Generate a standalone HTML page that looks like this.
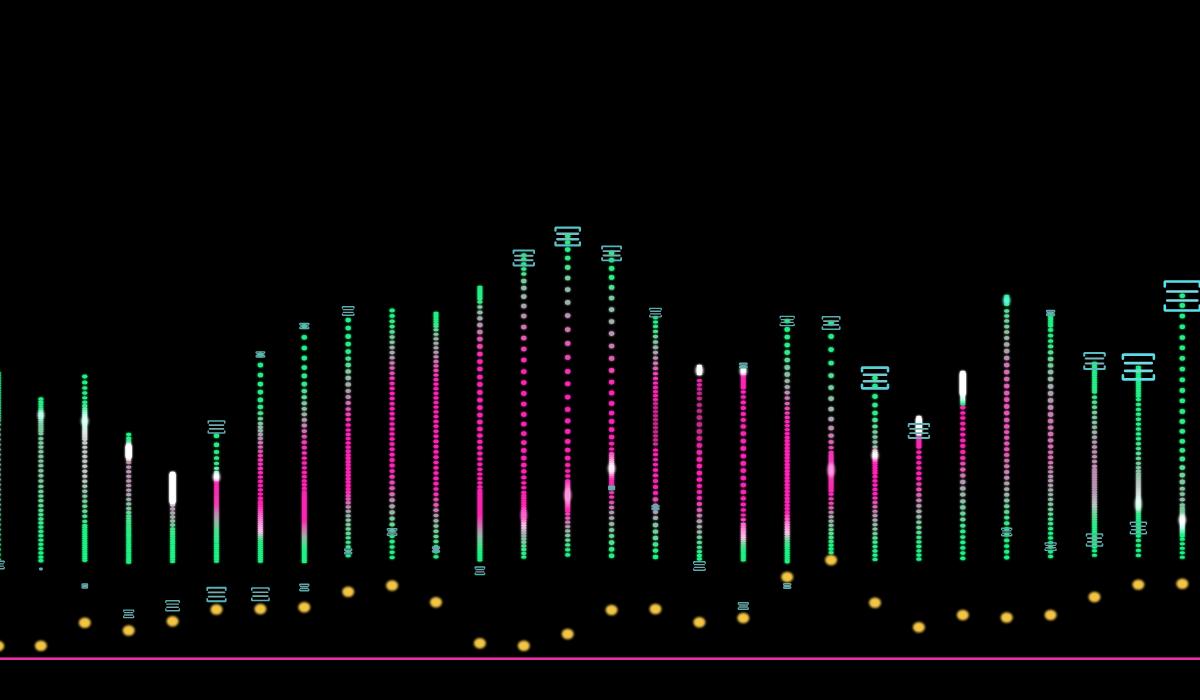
<!DOCTYPE html>
<html><head><meta charset="utf-8"><title>Distribution dots</title>
<style>html,body{margin:0;padding:0;background:#000;}body{width:1200px;height:700px;overflow:hidden;}svg{display:block;}</style>
</head><body>
<svg width="1200" height="700" viewBox="0 0 1200 700">
<defs><filter id="b1" x="-20%" y="-20%" width="140%" height="140%"><feGaussianBlur in="SourceGraphic" stdDeviation="1.3" result="g"/><feGaussianBlur in="SourceGraphic" stdDeviation="0.55" result="c"/><feMerge><feMergeNode in="g"/><feMergeNode in="c"/></feMerge></filter><filter id="b2" x="-50%" y="-50%" width="200%" height="200%"><feGaussianBlur stdDeviation="1.4"/></filter><filter id="b3" x="-50%" y="-50%" width="200%" height="200%"><feGaussianBlur stdDeviation="0.6"/></filter><filter id="b5" x="-50%" y="-50%" width="200%" height="200%"><feGaussianBlur stdDeviation="0.7"/></filter><filter id="b4" x="-50%" y="-50%" width="200%" height="200%"><feGaussianBlur stdDeviation="0.85"/></filter></defs>
<rect width="1200" height="700" fill="#000"/>
<g filter="url(#b1)">
<ellipse cx="-1.8" cy="373.0" rx="2.7" ry="1.50" fill="#20f082"/>
<ellipse cx="-1.8" cy="375.5" rx="2.7" ry="1.50" fill="#22ef83"/>
<ellipse cx="-1.8" cy="378.0" rx="2.7" ry="1.50" fill="#24ef83"/>
<ellipse cx="-1.8" cy="380.5" rx="2.7" ry="1.50" fill="#26ee84"/>
<ellipse cx="-1.8" cy="383.0" rx="2.7" ry="1.50" fill="#28ee84"/>
<ellipse cx="-1.8" cy="385.5" rx="2.7" ry="1.50" fill="#29ed85"/>
<ellipse cx="-1.8" cy="388.0" rx="2.7" ry="1.50" fill="#2bec85"/>
<ellipse cx="-1.8" cy="390.5" rx="2.7" ry="1.50" fill="#2dec86"/>
<ellipse cx="-1.8" cy="393.0" rx="2.7" ry="1.50" fill="#2feb86"/>
<ellipse cx="-1.8" cy="395.5" rx="2.7" ry="1.50" fill="#31ea87"/>
<ellipse cx="-1.8" cy="398.0" rx="2.7" ry="1.50" fill="#33ea88"/>
<ellipse cx="-1.8" cy="400.5" rx="2.7" ry="1.50" fill="#35e988"/>
<ellipse cx="-1.8" cy="403.0" rx="2.7" ry="1.50" fill="#37e989"/>
<ellipse cx="-1.8" cy="405.5" rx="2.7" ry="1.50" fill="#39e889"/>
<ellipse cx="-1.8" cy="408.0" rx="2.7" ry="1.50" fill="#3ae78a"/>
<ellipse cx="-1.8" cy="410.5" rx="2.7" ry="1.50" fill="#3ce78a"/>
<ellipse cx="-1.8" cy="413.0" rx="2.7" ry="1.50" fill="#3ee68b"/>
<ellipse cx="-1.8" cy="415.5" rx="2.7" ry="1.50" fill="#40e68b"/>
<ellipse cx="-1.8" cy="418.0" rx="2.7" ry="1.50" fill="#42e58c"/>
<ellipse cx="-1.8" cy="420.5" rx="2.7" ry="1.62" fill="#50de91"/>
<ellipse cx="-1.8" cy="424.6" rx="2.7" ry="1.72" fill="#67d398"/>
<ellipse cx="-1.8" cy="429.6" rx="2.7" ry="1.72" fill="#83c6a1"/>
<ellipse cx="-1.8" cy="434.6" rx="2.7" ry="1.72" fill="#84c5a2"/>
<ellipse cx="-1.8" cy="439.6" rx="2.7" ry="1.72" fill="#83c5a1"/>
<ellipse cx="-1.8" cy="444.6" rx="2.7" ry="1.72" fill="#83c6a1"/>
<ellipse cx="-1.8" cy="449.6" rx="2.7" ry="1.72" fill="#82c6a1"/>
<ellipse cx="-1.8" cy="454.6" rx="2.7" ry="1.72" fill="#81c7a1"/>
<ellipse cx="-1.8" cy="459.6" rx="2.7" ry="1.72" fill="#80c7a0"/>
<ellipse cx="-1.8" cy="464.6" rx="2.7" ry="1.72" fill="#80c8a0"/>
<ellipse cx="-1.8" cy="469.6" rx="2.7" ry="1.72" fill="#7fc8a0"/>
<ellipse cx="-1.8" cy="474.6" rx="2.7" ry="1.72" fill="#7ec99f"/>
<ellipse cx="-1.8" cy="479.6" rx="2.7" ry="1.72" fill="#7dc99f"/>
<ellipse cx="-1.8" cy="484.6" rx="2.7" ry="1.72" fill="#7cca9f"/>
<ellipse cx="-1.8" cy="489.6" rx="2.7" ry="1.72" fill="#7ccb9f"/>
<ellipse cx="-1.8" cy="494.6" rx="2.7" ry="1.72" fill="#7bcb9e"/>
<ellipse cx="-1.8" cy="499.6" rx="2.7" ry="1.72" fill="#7acc9e"/>
<ellipse cx="-1.8" cy="504.6" rx="2.7" ry="1.72" fill="#73ce9c"/>
<ellipse cx="-1.8" cy="509.6" rx="2.7" ry="1.72" fill="#6cd19a"/>
<ellipse cx="-1.8" cy="514.6" rx="2.7" ry="1.72" fill="#65d497"/>
<ellipse cx="-1.8" cy="519.6" rx="2.7" ry="1.72" fill="#5dd795"/>
<ellipse cx="-1.8" cy="524.6" rx="2.7" ry="1.72" fill="#56da93"/>
<ellipse cx="-1.8" cy="529.6" rx="2.7" ry="1.72" fill="#4edd90"/>
<ellipse cx="-1.8" cy="534.6" rx="2.7" ry="1.72" fill="#47e08e"/>
<ellipse cx="-1.8" cy="539.6" rx="2.7" ry="1.72" fill="#40e38c"/>
<ellipse cx="-1.8" cy="544.6" rx="2.7" ry="1.72" fill="#38e68a"/>
<ellipse cx="-1.8" cy="549.6" rx="2.7" ry="1.72" fill="#31e987"/>
<ellipse cx="-1.8" cy="554.6" rx="2.7" ry="1.72" fill="#29ec85"/>
<ellipse cx="-1.8" cy="559.6" rx="2.7" ry="1.72" fill="#22ef83"/>
<ellipse cx="40.9" cy="399.0" rx="2.7" ry="1.80" fill="#20f082"/>
<ellipse cx="40.9" cy="402.0" rx="2.7" ry="1.55" fill="#26ee84"/>
<ellipse cx="40.9" cy="404.6" rx="2.7" ry="1.34" fill="#2bed85"/>
<ellipse cx="40.9" cy="406.8" rx="2.7" ry="1.16" fill="#2feb86"/>
<ellipse cx="40.9" cy="408.8" rx="2.7" ry="1.00" fill="#40ed92"/>
<ellipse cx="40.9" cy="410.4" rx="2.7" ry="1.00" fill="#62f2aa"/>
<ellipse cx="40.9" cy="411.9" rx="2.7" ry="1.00" fill="#81f6bf"/>
<ellipse cx="40.9" cy="413.5" rx="2.7" ry="1.00" fill="#a0fbd6"/>
<ellipse cx="40.9" cy="415.2" rx="2.7" ry="1.04" fill="#bdfeea"/>
<ellipse cx="40.9" cy="416.9" rx="2.7" ry="1.08" fill="#b1f5dc"/>
<ellipse cx="40.9" cy="418.7" rx="2.7" ry="1.13" fill="#a5ecce"/>
<ellipse cx="40.9" cy="420.6" rx="2.7" ry="1.18" fill="#98e2c0"/>
<ellipse cx="40.9" cy="422.6" rx="2.7" ry="1.23" fill="#8bd8b1"/>
<ellipse cx="40.9" cy="424.6" rx="2.7" ry="1.28" fill="#7dcea1"/>
<ellipse cx="40.9" cy="426.7" rx="2.7" ry="1.34" fill="#7acb9e"/>
<ellipse cx="40.9" cy="429.0" rx="2.7" ry="1.39" fill="#7bcb9e"/>
<ellipse cx="40.9" cy="431.3" rx="2.7" ry="1.46" fill="#7ccb9f"/>
<ellipse cx="40.9" cy="433.7" rx="2.7" ry="1.50" fill="#7cca9f"/>
<ellipse cx="40.9" cy="438.6" rx="2.7" ry="1.58" fill="#7dc99f"/>
<ellipse cx="40.9" cy="442.9" rx="2.7" ry="1.60" fill="#7ec9a0"/>
<ellipse cx="40.9" cy="447.1" rx="2.7" ry="1.60" fill="#7fc8a0"/>
<ellipse cx="40.9" cy="451.7" rx="2.7" ry="1.59" fill="#81c7a0"/>
<ellipse cx="40.9" cy="456.4" rx="2.7" ry="1.59" fill="#82c7a1"/>
<ellipse cx="40.9" cy="461.0" rx="2.7" ry="1.59" fill="#83c6a1"/>
<ellipse cx="40.9" cy="465.7" rx="2.7" ry="1.62" fill="#84c5a2"/>
<ellipse cx="40.9" cy="470.7" rx="2.7" ry="1.72" fill="#84c5a2"/>
<ellipse cx="40.9" cy="475.7" rx="2.7" ry="1.72" fill="#7fc9a0"/>
<ellipse cx="40.9" cy="481.0" rx="2.7" ry="1.83" fill="#79cc9e"/>
<ellipse cx="40.9" cy="486.4" rx="2.7" ry="1.72" fill="#73d09b"/>
<ellipse cx="40.9" cy="491.4" rx="2.7" ry="1.59" fill="#6dd499"/>
<ellipse cx="40.9" cy="496.0" rx="2.7" ry="1.59" fill="#68d798"/>
<ellipse cx="40.9" cy="500.7" rx="2.7" ry="1.62" fill="#63da96"/>
<ellipse cx="40.9" cy="505.7" rx="2.7" ry="1.59" fill="#5add93"/>
<ellipse cx="40.9" cy="510.3" rx="2.7" ry="1.58" fill="#52e091"/>
<ellipse cx="40.9" cy="514.6" rx="2.7" ry="1.58" fill="#4be28f"/>
<ellipse cx="40.9" cy="518.9" rx="2.7" ry="1.63" fill="#44e48d"/>
<ellipse cx="40.9" cy="522.9" rx="2.7" ry="1.63" fill="#3de78b"/>
<ellipse cx="40.9" cy="527.1" rx="2.7" ry="1.60" fill="#36e988"/>
<ellipse cx="40.9" cy="531.4" rx="2.7" ry="1.58" fill="#30eb87"/>
<ellipse cx="40.9" cy="535.7" rx="2.7" ry="1.58" fill="#2eec86"/>
<ellipse cx="40.9" cy="540.0" rx="2.7" ry="1.58" fill="#2cec85"/>
<ellipse cx="40.9" cy="544.3" rx="2.7" ry="1.58" fill="#29ed85"/>
<ellipse cx="40.9" cy="548.6" rx="2.7" ry="1.58" fill="#27ee84"/>
<ellipse cx="40.9" cy="552.9" rx="2.7" ry="1.60" fill="#24ef83"/>
<ellipse cx="40.9" cy="557.1" rx="2.7" ry="1.70" fill="#22ef83"/>
<ellipse cx="40.9" cy="560.7" rx="2.7" ry="1.70" fill="#20f082"/>
<ellipse cx="84.8" cy="376.6" rx="2.7" ry="2.00" fill="#20f082"/>
<ellipse cx="84.8" cy="382.4" rx="2.7" ry="1.88" fill="#24ef83"/>
<ellipse cx="84.8" cy="387.9" rx="2.7" ry="1.77" fill="#27ee84"/>
<ellipse cx="84.8" cy="393.0" rx="2.7" ry="1.67" fill="#2aed85"/>
<ellipse cx="84.8" cy="397.8" rx="2.7" ry="1.56" fill="#2dec86"/>
<ellipse cx="84.8" cy="402.3" rx="2.7" ry="1.71" fill="#2feb87"/>
<ellipse cx="84.8" cy="405.8" rx="2.7" ry="1.70" fill="#3cec8f"/>
<ellipse cx="84.8" cy="408.7" rx="2.7" ry="1.36" fill="#64f2ac"/>
<ellipse cx="84.8" cy="410.9" rx="2.7" ry="1.20" fill="#84f7c2"/>
<ellipse cx="84.8" cy="412.9" rx="2.7" ry="1.20" fill="#a1fbd6"/>
<ellipse cx="84.8" cy="414.9" rx="2.7" ry="1.20" fill="#bdffea"/>
<ellipse cx="84.8" cy="416.9" rx="2.7" ry="1.20" fill="#beffeb"/>
<ellipse cx="84.8" cy="418.9" rx="2.7" ry="1.20" fill="#beffeb"/>
<ellipse cx="84.8" cy="420.9" rx="2.7" ry="1.20" fill="#beffeb"/>
<ellipse cx="84.8" cy="422.9" rx="2.7" ry="1.20" fill="#beffeb"/>
<ellipse cx="84.8" cy="424.9" rx="2.7" ry="1.20" fill="#beffeb"/>
<ellipse cx="84.8" cy="426.9" rx="2.7" ry="1.20" fill="#c8faea"/>
<ellipse cx="84.8" cy="428.9" rx="2.7" ry="1.20" fill="#d2f4e8"/>
<ellipse cx="84.8" cy="430.9" rx="2.7" ry="1.20" fill="#dceee7"/>
<ellipse cx="84.8" cy="432.9" rx="2.7" ry="1.20" fill="#dfe9e4"/>
<ellipse cx="84.8" cy="434.9" rx="2.7" ry="1.20" fill="#d9e3de"/>
<ellipse cx="84.8" cy="436.9" rx="2.7" ry="1.45" fill="#d4ded9"/>
<ellipse cx="84.8" cy="439.3" rx="2.7" ry="1.71" fill="#cdd7d3"/>
<ellipse cx="84.8" cy="442.9" rx="2.7" ry="1.57" fill="#c4ceca"/>
<ellipse cx="84.8" cy="447.3" rx="2.7" ry="1.56" fill="#bec8c4"/>
<ellipse cx="84.8" cy="451.8" rx="2.7" ry="1.62" fill="#bec8c4"/>
<ellipse cx="84.8" cy="456.5" rx="2.7" ry="1.68" fill="#bec8c4"/>
<ellipse cx="84.8" cy="461.3" rx="2.7" ry="1.72" fill="#bec8c4"/>
<ellipse cx="84.8" cy="466.3" rx="2.7" ry="1.72" fill="#bec8c4"/>
<ellipse cx="84.8" cy="471.3" rx="2.7" ry="1.72" fill="#bec8c4"/>
<ellipse cx="84.8" cy="476.3" rx="2.7" ry="1.72" fill="#bec8c4"/>
<ellipse cx="84.8" cy="481.3" rx="2.7" ry="1.72" fill="#b9c8c1"/>
<ellipse cx="84.8" cy="486.3" rx="2.7" ry="1.72" fill="#a6c6b6"/>
<ellipse cx="84.8" cy="491.3" rx="2.7" ry="1.72" fill="#93c5aa"/>
<ellipse cx="84.8" cy="496.3" rx="2.7" ry="1.72" fill="#82c6a1"/>
<ellipse cx="84.8" cy="501.3" rx="2.7" ry="1.72" fill="#77ce9d"/>
<ellipse cx="84.8" cy="506.3" rx="2.7" ry="1.72" fill="#6cd599"/>
<ellipse cx="84.8" cy="511.3" rx="2.7" ry="1.72" fill="#5fdb95"/>
<ellipse cx="84.8" cy="516.3" rx="2.7" ry="1.72" fill="#4ee190"/>
<ellipse cx="84.8" cy="521.3" rx="2.7" ry="1.62" fill="#3de68b"/>
<ellipse cx="84.8" cy="525.4" rx="2.7" ry="1.32" fill="#30eb87"/>
<ellipse cx="84.8" cy="527.6" rx="2.7" ry="1.32" fill="#28ed84"/>
<ellipse cx="84.8" cy="529.8" rx="2.7" ry="1.32" fill="#21f082"/>
<ellipse cx="84.8" cy="532.0" rx="2.7" ry="1.32" fill="#20f082"/>
<ellipse cx="84.8" cy="534.2" rx="2.7" ry="1.32" fill="#20f082"/>
<ellipse cx="84.8" cy="536.4" rx="2.7" ry="1.32" fill="#20f082"/>
<ellipse cx="84.8" cy="538.6" rx="2.7" ry="1.32" fill="#20f082"/>
<ellipse cx="84.8" cy="540.8" rx="2.7" ry="1.32" fill="#20f082"/>
<ellipse cx="84.8" cy="543.0" rx="2.7" ry="1.32" fill="#20f082"/>
<ellipse cx="84.8" cy="545.2" rx="2.7" ry="1.32" fill="#20f082"/>
<ellipse cx="84.8" cy="547.4" rx="2.7" ry="1.32" fill="#20f082"/>
<ellipse cx="84.8" cy="549.6" rx="2.7" ry="1.32" fill="#20f082"/>
<ellipse cx="84.8" cy="551.8" rx="2.7" ry="1.32" fill="#20f082"/>
<ellipse cx="84.8" cy="554.0" rx="2.7" ry="1.32" fill="#20f082"/>
<ellipse cx="84.8" cy="556.2" rx="2.7" ry="1.32" fill="#20f082"/>
<ellipse cx="84.8" cy="558.4" rx="2.7" ry="1.32" fill="#20f082"/>
<ellipse cx="84.8" cy="560.6" rx="2.7" ry="1.32" fill="#20f082"/>
<ellipse cx="128.7" cy="434.4" rx="2.7" ry="1.63" fill="#22ef83"/>
<ellipse cx="128.7" cy="438.4" rx="2.7" ry="1.79" fill="#35e988"/>
<ellipse cx="128.7" cy="441.5" rx="2.7" ry="1.41" fill="#58e89a"/>
<ellipse cx="128.7" cy="443.8" rx="2.7" ry="1.20" fill="#c8f7dd"/>
<ellipse cx="128.7" cy="445.8" rx="2.7" ry="1.20" fill="#ffffff"/>
<ellipse cx="128.7" cy="447.8" rx="2.7" ry="1.20" fill="#ffffff"/>
<ellipse cx="128.7" cy="449.8" rx="2.7" ry="1.20" fill="#ffffff"/>
<ellipse cx="128.7" cy="451.8" rx="2.7" ry="1.20" fill="#ffffff"/>
<ellipse cx="128.7" cy="453.8" rx="2.7" ry="1.20" fill="#ffffff"/>
<ellipse cx="128.7" cy="455.8" rx="2.7" ry="1.20" fill="#ffffff"/>
<ellipse cx="128.7" cy="457.8" rx="2.7" ry="1.20" fill="#ffffff"/>
<ellipse cx="128.7" cy="459.8" rx="2.7" ry="1.63" fill="#e0cddb"/>
<ellipse cx="128.7" cy="462.5" rx="2.7" ry="1.59" fill="#ba92b1"/>
<ellipse cx="128.7" cy="467.1" rx="2.7" ry="1.59" fill="#b994b1"/>
<ellipse cx="128.7" cy="471.7" rx="2.7" ry="1.59" fill="#b895b0"/>
<ellipse cx="128.7" cy="476.3" rx="2.7" ry="1.59" fill="#b797b0"/>
<ellipse cx="128.7" cy="480.9" rx="2.7" ry="1.59" fill="#b598b0"/>
<ellipse cx="128.7" cy="485.5" rx="2.7" ry="1.59" fill="#b499af"/>
<ellipse cx="128.7" cy="490.1" rx="2.7" ry="1.59" fill="#b39baf"/>
<ellipse cx="128.7" cy="494.7" rx="2.7" ry="1.59" fill="#a8a6ac"/>
<ellipse cx="128.7" cy="499.3" rx="2.7" ry="1.59" fill="#9db0a9"/>
<ellipse cx="128.7" cy="503.9" rx="2.7" ry="1.59" fill="#92bba7"/>
<ellipse cx="128.7" cy="508.5" rx="2.7" ry="1.63" fill="#7ec7a0"/>
<ellipse cx="128.7" cy="512.5" rx="2.7" ry="1.75" fill="#69d199"/>
<ellipse cx="128.7" cy="515.9" rx="2.7" ry="1.66" fill="#57da93"/>
<ellipse cx="128.7" cy="518.6" rx="2.7" ry="1.44" fill="#49e18e"/>
<ellipse cx="128.7" cy="521.0" rx="2.7" ry="1.43" fill="#40e68b"/>
<ellipse cx="128.7" cy="523.4" rx="2.7" ry="1.43" fill="#3ce78a"/>
<ellipse cx="128.7" cy="525.8" rx="2.7" ry="1.42" fill="#38e889"/>
<ellipse cx="128.7" cy="528.2" rx="2.7" ry="1.41" fill="#34e988"/>
<ellipse cx="128.7" cy="530.5" rx="2.7" ry="1.41" fill="#30eb87"/>
<ellipse cx="128.7" cy="532.9" rx="2.7" ry="1.40" fill="#2cec86"/>
<ellipse cx="128.7" cy="535.2" rx="2.7" ry="1.39" fill="#28ed84"/>
<ellipse cx="128.7" cy="537.5" rx="2.7" ry="1.39" fill="#24ef83"/>
<ellipse cx="128.7" cy="539.8" rx="2.7" ry="1.38" fill="#20f082"/>
<ellipse cx="128.7" cy="542.1" rx="2.7" ry="1.38" fill="#20f082"/>
<ellipse cx="128.7" cy="544.4" rx="2.7" ry="1.37" fill="#20f082"/>
<ellipse cx="128.7" cy="546.7" rx="2.7" ry="1.36" fill="#20f082"/>
<ellipse cx="128.7" cy="549.0" rx="2.7" ry="1.36" fill="#20f082"/>
<ellipse cx="128.7" cy="551.2" rx="2.7" ry="1.35" fill="#20f082"/>
<ellipse cx="128.7" cy="553.5" rx="2.7" ry="1.35" fill="#20f082"/>
<ellipse cx="128.7" cy="555.7" rx="2.7" ry="1.34" fill="#20f082"/>
<ellipse cx="128.7" cy="558.0" rx="2.7" ry="1.33" fill="#20f082"/>
<ellipse cx="128.7" cy="560.2" rx="2.7" ry="1.33" fill="#20f082"/>
<ellipse cx="128.7" cy="562.4" rx="2.7" ry="1.32" fill="#20f082"/>
<ellipse cx="172.6" cy="473.0" rx="2.7" ry="1.20" fill="#ffffff"/>
<ellipse cx="172.6" cy="475.0" rx="2.7" ry="1.20" fill="#ffffff"/>
<ellipse cx="172.6" cy="477.0" rx="2.7" ry="1.20" fill="#ffffff"/>
<ellipse cx="172.6" cy="479.0" rx="2.7" ry="1.20" fill="#ffffff"/>
<ellipse cx="172.6" cy="481.0" rx="2.7" ry="1.20" fill="#ffffff"/>
<ellipse cx="172.6" cy="483.0" rx="2.7" ry="1.20" fill="#ffffff"/>
<ellipse cx="172.6" cy="485.0" rx="2.7" ry="1.20" fill="#ffffff"/>
<ellipse cx="172.6" cy="487.0" rx="2.7" ry="1.20" fill="#ffffff"/>
<ellipse cx="172.6" cy="489.0" rx="2.7" ry="1.20" fill="#ffffff"/>
<ellipse cx="172.6" cy="491.0" rx="2.7" ry="1.20" fill="#ffffff"/>
<ellipse cx="172.6" cy="493.0" rx="2.7" ry="1.20" fill="#ffffff"/>
<ellipse cx="172.6" cy="495.0" rx="2.7" ry="1.20" fill="#ffffff"/>
<ellipse cx="172.6" cy="497.0" rx="2.7" ry="1.20" fill="#ffffff"/>
<ellipse cx="172.6" cy="499.0" rx="2.7" ry="1.20" fill="#ffffff"/>
<ellipse cx="172.6" cy="501.0" rx="2.7" ry="1.20" fill="#ffffff"/>
<ellipse cx="172.6" cy="503.0" rx="2.7" ry="1.20" fill="#ffffff"/>
<ellipse cx="172.6" cy="505.0" rx="2.7" ry="1.63" fill="#cfb9ca"/>
<ellipse cx="172.6" cy="509.0" rx="2.7" ry="1.63" fill="#b19daf"/>
<ellipse cx="172.6" cy="513.0" rx="2.7" ry="1.63" fill="#a9a6ad"/>
<ellipse cx="172.6" cy="517.0" rx="2.7" ry="1.63" fill="#a1afab"/>
<ellipse cx="172.6" cy="521.0" rx="2.7" ry="1.63" fill="#92bba7"/>
<ellipse cx="172.6" cy="525.0" rx="2.7" ry="1.63" fill="#6ece9b"/>
<ellipse cx="172.6" cy="529.0" rx="2.7" ry="1.63" fill="#4be08f"/>
<ellipse cx="172.6" cy="531.7" rx="2.7" ry="1.43" fill="#3ce78a"/>
<ellipse cx="172.6" cy="534.1" rx="2.7" ry="1.43" fill="#34ea88"/>
<ellipse cx="172.6" cy="536.5" rx="2.7" ry="1.42" fill="#2cec86"/>
<ellipse cx="172.6" cy="538.8" rx="2.7" ry="1.41" fill="#24ef83"/>
<ellipse cx="172.6" cy="541.2" rx="2.7" ry="1.40" fill="#20f082"/>
<ellipse cx="172.6" cy="543.5" rx="2.7" ry="1.39" fill="#20f082"/>
<ellipse cx="172.6" cy="545.8" rx="2.7" ry="1.38" fill="#20f082"/>
<ellipse cx="172.6" cy="548.1" rx="2.7" ry="1.37" fill="#20f082"/>
<ellipse cx="172.6" cy="550.4" rx="2.7" ry="1.37" fill="#20f082"/>
<ellipse cx="172.6" cy="552.7" rx="2.7" ry="1.36" fill="#20f082"/>
<ellipse cx="172.6" cy="555.0" rx="2.7" ry="1.35" fill="#20f082"/>
<ellipse cx="172.6" cy="557.2" rx="2.7" ry="1.34" fill="#20f082"/>
<ellipse cx="172.6" cy="559.5" rx="2.7" ry="1.33" fill="#20f082"/>
<ellipse cx="172.6" cy="561.7" rx="2.7" ry="1.32" fill="#20f082"/>
<ellipse cx="216.5" cy="435.7" rx="2.7" ry="2.30" fill="#20f082"/>
<ellipse cx="216.5" cy="444.7" rx="2.7" ry="2.30" fill="#25ee84"/>
<ellipse cx="216.5" cy="452.0" rx="2.7" ry="2.07" fill="#2aed85"/>
<ellipse cx="216.5" cy="458.0" rx="2.7" ry="1.86" fill="#2dec86"/>
<ellipse cx="216.5" cy="463.4" rx="2.7" ry="1.68" fill="#30eb87"/>
<ellipse cx="216.5" cy="468.3" rx="2.7" ry="1.66" fill="#6af0a8"/>
<ellipse cx="216.5" cy="472.1" rx="2.7" ry="1.20" fill="#acf7ce"/>
<ellipse cx="216.5" cy="474.1" rx="2.7" ry="1.20" fill="#cefae2"/>
<ellipse cx="216.5" cy="476.1" rx="2.7" ry="1.20" fill="#f0fef6"/>
<ellipse cx="216.5" cy="478.1" rx="2.7" ry="1.20" fill="#fdceed"/>
<ellipse cx="216.5" cy="480.1" rx="2.7" ry="1.20" fill="#fb78cf"/>
<ellipse cx="216.5" cy="482.1" rx="2.7" ry="1.20" fill="#f828b2"/>
<ellipse cx="216.5" cy="484.1" rx="2.7" ry="1.20" fill="#f72ab2"/>
<ellipse cx="216.5" cy="486.1" rx="2.7" ry="1.20" fill="#f62db2"/>
<ellipse cx="216.5" cy="488.1" rx="2.7" ry="1.20" fill="#f52fb2"/>
<ellipse cx="216.5" cy="490.1" rx="2.7" ry="1.20" fill="#f431b2"/>
<ellipse cx="216.5" cy="492.1" rx="2.7" ry="1.20" fill="#f334b2"/>
<ellipse cx="216.5" cy="494.1" rx="2.7" ry="1.20" fill="#f236b2"/>
<ellipse cx="216.5" cy="496.1" rx="2.7" ry="1.20" fill="#f138b2"/>
<ellipse cx="216.5" cy="498.1" rx="2.7" ry="1.20" fill="#f13bb2"/>
<ellipse cx="216.5" cy="500.1" rx="2.7" ry="1.20" fill="#f03db2"/>
<ellipse cx="216.5" cy="502.1" rx="2.7" ry="1.20" fill="#ef3fb2"/>
<ellipse cx="216.5" cy="504.1" rx="2.7" ry="1.20" fill="#ee42b2"/>
<ellipse cx="216.5" cy="506.1" rx="2.7" ry="1.20" fill="#e74cb2"/>
<ellipse cx="216.5" cy="508.1" rx="2.7" ry="1.20" fill="#dc5db1"/>
<ellipse cx="216.5" cy="510.1" rx="2.7" ry="1.20" fill="#d16eb1"/>
<ellipse cx="216.5" cy="512.1" rx="2.7" ry="1.20" fill="#c67fb1"/>
<ellipse cx="216.5" cy="514.1" rx="2.7" ry="1.20" fill="#bb8fb0"/>
<ellipse cx="216.5" cy="516.1" rx="2.7" ry="1.20" fill="#b29caf"/>
<ellipse cx="216.5" cy="518.1" rx="2.7" ry="1.20" fill="#aaa5ad"/>
<ellipse cx="216.5" cy="520.1" rx="2.7" ry="1.20" fill="#a2aeac"/>
<ellipse cx="216.5" cy="522.1" rx="2.7" ry="1.20" fill="#9ab7aa"/>
<ellipse cx="216.5" cy="524.1" rx="2.7" ry="1.20" fill="#88c1a3"/>
<ellipse cx="216.5" cy="526.1" rx="2.7" ry="1.20" fill="#76cc9d"/>
<ellipse cx="216.5" cy="528.1" rx="2.7" ry="1.20" fill="#64d697"/>
<ellipse cx="216.5" cy="530.1" rx="2.7" ry="1.20" fill="#53e091"/>
<ellipse cx="216.5" cy="532.1" rx="2.7" ry="1.21" fill="#4ce28f"/>
<ellipse cx="216.5" cy="534.2" rx="2.7" ry="1.22" fill="#45e48d"/>
<ellipse cx="216.5" cy="536.2" rx="2.7" ry="1.22" fill="#3ee68b"/>
<ellipse cx="216.5" cy="538.2" rx="2.7" ry="1.23" fill="#37e989"/>
<ellipse cx="216.5" cy="540.3" rx="2.7" ry="1.24" fill="#30eb87"/>
<ellipse cx="216.5" cy="542.3" rx="2.7" ry="1.24" fill="#29ed85"/>
<ellipse cx="216.5" cy="544.4" rx="2.7" ry="1.25" fill="#22ef83"/>
<ellipse cx="216.5" cy="546.5" rx="2.7" ry="1.26" fill="#20f082"/>
<ellipse cx="216.5" cy="548.6" rx="2.7" ry="1.27" fill="#20f082"/>
<ellipse cx="216.5" cy="550.7" rx="2.7" ry="1.28" fill="#20f082"/>
<ellipse cx="216.5" cy="552.8" rx="2.7" ry="1.28" fill="#20f082"/>
<ellipse cx="216.5" cy="555.0" rx="2.7" ry="1.29" fill="#20f082"/>
<ellipse cx="216.5" cy="557.1" rx="2.7" ry="1.30" fill="#20f082"/>
<ellipse cx="216.5" cy="559.3" rx="2.7" ry="1.31" fill="#20f082"/>
<ellipse cx="216.5" cy="561.5" rx="2.7" ry="1.31" fill="#20f082"/>
<ellipse cx="260.4" cy="354.6" rx="2.7" ry="2.30" fill="#20f082"/>
<ellipse cx="260.4" cy="365.0" rx="2.7" ry="2.30" fill="#24ef83"/>
<ellipse cx="260.4" cy="375.0" rx="2.7" ry="2.30" fill="#27ee84"/>
<ellipse cx="260.4" cy="384.1" rx="2.7" ry="2.30" fill="#2aed85"/>
<ellipse cx="260.4" cy="392.1" rx="2.7" ry="2.30" fill="#2cec86"/>
<ellipse cx="260.4" cy="399.9" rx="2.7" ry="2.30" fill="#2feb86"/>
<ellipse cx="260.4" cy="407.0" rx="2.7" ry="2.14" fill="#31ea87"/>
<ellipse cx="260.4" cy="413.2" rx="2.7" ry="1.90" fill="#51de91"/>
<ellipse cx="260.4" cy="418.7" rx="2.7" ry="1.66" fill="#6dd39a"/>
<ellipse cx="260.4" cy="423.5" rx="2.7" ry="1.67" fill="#81c7a1"/>
<ellipse cx="260.4" cy="427.3" rx="2.7" ry="1.73" fill="#90bda6"/>
<ellipse cx="260.4" cy="430.7" rx="2.7" ry="1.73" fill="#9eb3aa"/>
<ellipse cx="260.4" cy="434.5" rx="2.7" ry="1.67" fill="#ada1ad"/>
<ellipse cx="260.4" cy="438.4" rx="2.7" ry="1.65" fill="#bc8eb0"/>
<ellipse cx="260.4" cy="442.7" rx="2.7" ry="1.58" fill="#cc7ab2"/>
<ellipse cx="260.4" cy="447.0" rx="2.7" ry="1.58" fill="#d867b2"/>
<ellipse cx="260.4" cy="451.3" rx="2.7" ry="1.58" fill="#e353b2"/>
<ellipse cx="260.4" cy="455.6" rx="2.7" ry="1.58" fill="#ee42b2"/>
<ellipse cx="260.4" cy="459.9" rx="2.7" ry="1.60" fill="#ef3db2"/>
<ellipse cx="260.4" cy="464.1" rx="2.7" ry="1.60" fill="#f139b2"/>
<ellipse cx="260.4" cy="468.4" rx="2.7" ry="1.58" fill="#f334b2"/>
<ellipse cx="260.4" cy="472.7" rx="2.7" ry="1.59" fill="#f530b2"/>
<ellipse cx="260.4" cy="477.0" rx="2.7" ry="1.59" fill="#f72bb2"/>
<ellipse cx="260.4" cy="481.3" rx="2.7" ry="1.59" fill="#f828b2"/>
<ellipse cx="260.4" cy="485.5" rx="2.7" ry="1.59" fill="#f828b2"/>
<ellipse cx="260.4" cy="489.8" rx="2.7" ry="1.60" fill="#f828b2"/>
<ellipse cx="260.4" cy="494.0" rx="2.7" ry="1.60" fill="#f828b2"/>
<ellipse cx="260.4" cy="498.2" rx="2.7" ry="1.74" fill="#f828b2"/>
<ellipse cx="260.4" cy="501.5" rx="2.7" ry="1.20" fill="#f828b2"/>
<ellipse cx="260.4" cy="503.5" rx="2.7" ry="1.20" fill="#f828b2"/>
<ellipse cx="260.4" cy="505.5" rx="2.7" ry="1.20" fill="#f82bb3"/>
<ellipse cx="260.4" cy="507.5" rx="2.7" ry="1.20" fill="#f937b8"/>
<ellipse cx="260.4" cy="509.5" rx="2.7" ry="1.20" fill="#fa43bd"/>
<ellipse cx="260.4" cy="511.5" rx="2.7" ry="1.20" fill="#fb4fc2"/>
<ellipse cx="260.4" cy="513.5" rx="2.7" ry="1.20" fill="#fc5bc7"/>
<ellipse cx="260.4" cy="515.5" rx="2.7" ry="1.20" fill="#fd67cc"/>
<ellipse cx="260.4" cy="517.5" rx="2.7" ry="1.20" fill="#fe73d1"/>
<ellipse cx="260.4" cy="519.5" rx="2.7" ry="1.20" fill="#ff7fd6"/>
<ellipse cx="260.4" cy="521.5" rx="2.7" ry="1.20" fill="#ff8ada"/>
<ellipse cx="260.4" cy="523.5" rx="2.7" ry="1.20" fill="#ff95dd"/>
<ellipse cx="260.4" cy="525.5" rx="2.7" ry="1.20" fill="#ffa0e0"/>
<ellipse cx="260.4" cy="527.5" rx="2.7" ry="1.20" fill="#ffabe4"/>
<ellipse cx="260.4" cy="529.5" rx="2.7" ry="1.20" fill="#ffb6e7"/>
<ellipse cx="260.4" cy="531.5" rx="2.7" ry="1.20" fill="#ffc0ea"/>
<ellipse cx="260.4" cy="533.5" rx="2.7" ry="1.20" fill="#dbc9d9"/>
<ellipse cx="260.4" cy="535.5" rx="2.7" ry="1.20" fill="#acd2c1"/>
<ellipse cx="260.4" cy="537.5" rx="2.7" ry="1.20" fill="#7ddaa9"/>
<ellipse cx="260.4" cy="539.5" rx="2.7" ry="1.20" fill="#4de392"/>
<ellipse cx="260.4" cy="541.5" rx="2.7" ry="1.20" fill="#38e889"/>
<ellipse cx="260.4" cy="543.5" rx="2.7" ry="1.20" fill="#2aed85"/>
<ellipse cx="260.4" cy="545.5" rx="2.7" ry="1.20" fill="#20f082"/>
<ellipse cx="260.4" cy="547.5" rx="2.7" ry="1.20" fill="#20f082"/>
<ellipse cx="260.4" cy="549.5" rx="2.7" ry="1.20" fill="#20f082"/>
<ellipse cx="260.4" cy="551.5" rx="2.7" ry="1.20" fill="#20f082"/>
<ellipse cx="260.4" cy="553.5" rx="2.7" ry="1.20" fill="#20f082"/>
<ellipse cx="260.4" cy="555.5" rx="2.7" ry="1.20" fill="#20f082"/>
<ellipse cx="260.4" cy="557.5" rx="2.7" ry="1.20" fill="#20f082"/>
<ellipse cx="260.4" cy="559.5" rx="2.7" ry="1.20" fill="#20f082"/>
<ellipse cx="260.4" cy="561.5" rx="2.7" ry="1.20" fill="#20f082"/>
<ellipse cx="304.3" cy="326.2" rx="2.7" ry="2.30" fill="#20f082"/>
<ellipse cx="304.3" cy="337.3" rx="2.7" ry="2.30" fill="#23ef83"/>
<ellipse cx="304.3" cy="348.0" rx="2.7" ry="2.30" fill="#26ee84"/>
<ellipse cx="304.3" cy="358.1" rx="2.7" ry="2.30" fill="#29ed85"/>
<ellipse cx="304.3" cy="367.6" rx="2.7" ry="2.30" fill="#2cec86"/>
<ellipse cx="304.3" cy="375.9" rx="2.7" ry="2.30" fill="#2feb86"/>
<ellipse cx="304.3" cy="384.1" rx="2.7" ry="2.30" fill="#31ea87"/>
<ellipse cx="304.3" cy="391.1" rx="2.7" ry="2.14" fill="#4de18f"/>
<ellipse cx="304.3" cy="397.3" rx="2.7" ry="2.04" fill="#65d996"/>
<ellipse cx="304.3" cy="403.2" rx="2.7" ry="1.93" fill="#7bcb9e"/>
<ellipse cx="304.3" cy="408.8" rx="2.7" ry="1.90" fill="#8fbea6"/>
<ellipse cx="304.3" cy="414.3" rx="2.7" ry="1.90" fill="#9eb0aa"/>
<ellipse cx="304.3" cy="419.9" rx="2.7" ry="1.93" fill="#ada1ae"/>
<ellipse cx="304.3" cy="425.5" rx="2.7" ry="1.93" fill="#c188b0"/>
<ellipse cx="304.3" cy="431.1" rx="2.7" ry="1.90" fill="#d46eb2"/>
<ellipse cx="304.3" cy="436.6" rx="2.7" ry="1.90" fill="#e057b2"/>
<ellipse cx="304.3" cy="442.2" rx="2.7" ry="1.93" fill="#ed41b2"/>
<ellipse cx="304.3" cy="447.7" rx="2.7" ry="1.83" fill="#f334b2"/>
<ellipse cx="304.3" cy="453.0" rx="2.7" ry="1.76" fill="#f431b2"/>
<ellipse cx="304.3" cy="458.1" rx="2.7" ry="1.70" fill="#f52eb2"/>
<ellipse cx="304.3" cy="463.0" rx="2.7" ry="1.64" fill="#f72cb2"/>
<ellipse cx="304.3" cy="467.8" rx="2.7" ry="1.58" fill="#f829b2"/>
<ellipse cx="304.3" cy="472.4" rx="2.7" ry="1.57" fill="#f828b2"/>
<ellipse cx="304.3" cy="476.7" rx="2.7" ry="1.61" fill="#f828b2"/>
<ellipse cx="304.3" cy="480.9" rx="2.7" ry="1.65" fill="#f828b2"/>
<ellipse cx="304.3" cy="484.8" rx="2.7" ry="1.69" fill="#f828b2"/>
<ellipse cx="304.3" cy="488.4" rx="2.7" ry="1.74" fill="#f828b2"/>
<ellipse cx="304.3" cy="491.8" rx="2.7" ry="1.25" fill="#f828b2"/>
<ellipse cx="304.3" cy="493.9" rx="2.7" ry="1.20" fill="#f828b2"/>
<ellipse cx="304.3" cy="495.9" rx="2.7" ry="1.20" fill="#f828b2"/>
<ellipse cx="304.3" cy="497.9" rx="2.7" ry="1.20" fill="#f828b2"/>
<ellipse cx="304.3" cy="499.9" rx="2.7" ry="1.20" fill="#f828b2"/>
<ellipse cx="304.3" cy="501.9" rx="2.7" ry="1.20" fill="#f828b2"/>
<ellipse cx="304.3" cy="503.9" rx="2.7" ry="1.20" fill="#f828b2"/>
<ellipse cx="304.3" cy="505.9" rx="2.7" ry="1.20" fill="#f828b2"/>
<ellipse cx="304.3" cy="507.9" rx="2.7" ry="1.20" fill="#f828b2"/>
<ellipse cx="304.3" cy="509.9" rx="2.7" ry="1.20" fill="#f828b2"/>
<ellipse cx="304.3" cy="511.9" rx="2.7" ry="1.20" fill="#f828b2"/>
<ellipse cx="304.3" cy="513.9" rx="2.7" ry="1.20" fill="#f828b2"/>
<ellipse cx="304.3" cy="515.9" rx="2.7" ry="1.20" fill="#f828b2"/>
<ellipse cx="304.3" cy="517.9" rx="2.7" ry="1.20" fill="#f828b2"/>
<ellipse cx="304.3" cy="519.9" rx="2.7" ry="1.20" fill="#f828b2"/>
<ellipse cx="304.3" cy="521.9" rx="2.7" ry="1.20" fill="#ef38b2"/>
<ellipse cx="304.3" cy="523.9" rx="2.7" ry="1.20" fill="#e649b2"/>
<ellipse cx="304.3" cy="525.9" rx="2.7" ry="1.20" fill="#dd5ab2"/>
<ellipse cx="304.3" cy="527.9" rx="2.7" ry="1.20" fill="#d46bb2"/>
<ellipse cx="304.3" cy="529.9" rx="2.7" ry="1.20" fill="#cb7cb2"/>
<ellipse cx="304.3" cy="531.9" rx="2.7" ry="1.20" fill="#bd8caf"/>
<ellipse cx="304.3" cy="533.9" rx="2.7" ry="1.20" fill="#ae9cac"/>
<ellipse cx="304.3" cy="535.9" rx="2.7" ry="1.20" fill="#a0aca9"/>
<ellipse cx="304.3" cy="537.9" rx="2.7" ry="1.20" fill="#91bca6"/>
<ellipse cx="304.3" cy="539.9" rx="2.7" ry="1.20" fill="#7bc89f"/>
<ellipse cx="304.3" cy="541.9" rx="2.7" ry="1.20" fill="#65d398"/>
<ellipse cx="304.3" cy="543.9" rx="2.7" ry="1.20" fill="#4fdf90"/>
<ellipse cx="304.3" cy="545.9" rx="2.7" ry="1.20" fill="#3ee68b"/>
<ellipse cx="304.3" cy="547.9" rx="2.7" ry="1.20" fill="#34e988"/>
<ellipse cx="304.3" cy="549.9" rx="2.7" ry="1.20" fill="#2aed85"/>
<ellipse cx="304.3" cy="551.9" rx="2.7" ry="1.20" fill="#21f082"/>
<ellipse cx="304.3" cy="553.9" rx="2.7" ry="1.20" fill="#20f082"/>
<ellipse cx="304.3" cy="555.9" rx="2.7" ry="1.20" fill="#20f082"/>
<ellipse cx="304.3" cy="557.9" rx="2.7" ry="1.20" fill="#20f082"/>
<ellipse cx="304.3" cy="559.9" rx="2.7" ry="1.20" fill="#20f082"/>
<ellipse cx="304.3" cy="561.9" rx="2.7" ry="1.20" fill="#20f082"/>
<ellipse cx="348.2" cy="320.0" rx="2.7" ry="2.30" fill="#20f082"/>
<ellipse cx="348.2" cy="328.0" rx="2.7" ry="2.30" fill="#24ef83"/>
<ellipse cx="348.2" cy="336.4" rx="2.7" ry="2.30" fill="#28ed84"/>
<ellipse cx="348.2" cy="344.0" rx="2.7" ry="2.30" fill="#2cec85"/>
<ellipse cx="348.2" cy="351.6" rx="2.7" ry="2.30" fill="#2feb87"/>
<ellipse cx="348.2" cy="358.6" rx="2.7" ry="2.21" fill="#42e48c"/>
<ellipse cx="348.2" cy="365.0" rx="2.7" ry="2.21" fill="#61d896"/>
<ellipse cx="348.2" cy="371.4" rx="2.7" ry="2.21" fill="#7bcb9f"/>
<ellipse cx="348.2" cy="378.0" rx="2.7" ry="2.21" fill="#94bba7"/>
<ellipse cx="348.2" cy="384.4" rx="2.7" ry="2.21" fill="#a3adac"/>
<ellipse cx="348.2" cy="391.0" rx="2.7" ry="2.07" fill="#af9fae"/>
<ellipse cx="348.2" cy="397.0" rx="2.7" ry="2.07" fill="#bd8db0"/>
<ellipse cx="348.2" cy="403.0" rx="2.7" ry="2.07" fill="#d171b1"/>
<ellipse cx="348.2" cy="409.0" rx="2.7" ry="1.86" fill="#e555b2"/>
<ellipse cx="348.2" cy="414.4" rx="2.7" ry="1.79" fill="#ed44b2"/>
<ellipse cx="348.2" cy="419.6" rx="2.7" ry="1.79" fill="#f236b2"/>
<ellipse cx="348.2" cy="425.0" rx="2.7" ry="1.72" fill="#f828b2"/>
<ellipse cx="348.2" cy="430.0" rx="2.7" ry="1.57" fill="#f828b2"/>
<ellipse cx="348.2" cy="434.4" rx="2.7" ry="1.60" fill="#f828b2"/>
<ellipse cx="348.2" cy="438.6" rx="2.7" ry="1.60" fill="#f828b2"/>
<ellipse cx="348.2" cy="442.9" rx="2.7" ry="1.58" fill="#f828b2"/>
<ellipse cx="348.2" cy="447.2" rx="2.7" ry="1.64" fill="#f828b2"/>
<ellipse cx="348.2" cy="451.2" rx="2.7" ry="1.69" fill="#f828b2"/>
<ellipse cx="348.2" cy="454.9" rx="2.7" ry="1.73" fill="#f828b2"/>
<ellipse cx="348.2" cy="458.3" rx="2.7" ry="1.73" fill="#f828b2"/>
<ellipse cx="348.2" cy="461.7" rx="2.7" ry="1.73" fill="#f828b2"/>
<ellipse cx="348.2" cy="465.1" rx="2.7" ry="1.73" fill="#f828b2"/>
<ellipse cx="348.2" cy="468.5" rx="2.7" ry="1.73" fill="#f828b2"/>
<ellipse cx="348.2" cy="471.9" rx="2.7" ry="1.73" fill="#f828b2"/>
<ellipse cx="348.2" cy="475.3" rx="2.7" ry="1.73" fill="#f828b2"/>
<ellipse cx="348.2" cy="478.7" rx="2.7" ry="1.73" fill="#f828b2"/>
<ellipse cx="348.2" cy="482.1" rx="2.7" ry="1.73" fill="#f828b2"/>
<ellipse cx="348.2" cy="485.5" rx="2.7" ry="1.73" fill="#f828b2"/>
<ellipse cx="348.2" cy="488.9" rx="2.7" ry="1.73" fill="#f828b2"/>
<ellipse cx="348.2" cy="492.3" rx="2.7" ry="1.73" fill="#f135b2"/>
<ellipse cx="348.2" cy="495.7" rx="2.7" ry="1.73" fill="#e748b2"/>
<ellipse cx="348.2" cy="499.1" rx="2.7" ry="1.69" fill="#dc5bb2"/>
<ellipse cx="348.2" cy="502.7" rx="2.7" ry="1.61" fill="#d170b2"/>
<ellipse cx="348.2" cy="506.9" rx="2.7" ry="1.57" fill="#c188b1"/>
<ellipse cx="348.2" cy="511.3" rx="2.7" ry="1.56" fill="#ada1ad"/>
<ellipse cx="348.2" cy="515.7" rx="2.7" ry="1.56" fill="#99b7a9"/>
<ellipse cx="348.2" cy="520.1" rx="2.7" ry="1.56" fill="#8cc0a5"/>
<ellipse cx="348.2" cy="524.5" rx="2.7" ry="1.56" fill="#7fc8a0"/>
<ellipse cx="348.2" cy="528.9" rx="2.7" ry="1.56" fill="#72d19b"/>
<ellipse cx="348.2" cy="533.4" rx="2.7" ry="1.56" fill="#65d797"/>
<ellipse cx="348.2" cy="537.8" rx="2.7" ry="1.56" fill="#57dc93"/>
<ellipse cx="348.2" cy="542.3" rx="2.7" ry="1.56" fill="#4ae28f"/>
<ellipse cx="348.2" cy="546.8" rx="2.7" ry="1.55" fill="#3ee68b"/>
<ellipse cx="348.2" cy="551.2" rx="2.7" ry="1.55" fill="#34ea88"/>
<ellipse cx="348.2" cy="555.7" rx="2.7" ry="1.55" fill="#2aed85"/>
<ellipse cx="392.1" cy="310.4" rx="2.7" ry="1.90" fill="#20f082"/>
<ellipse cx="392.1" cy="315.9" rx="2.7" ry="1.87" fill="#27ee84"/>
<ellipse cx="392.1" cy="321.3" rx="2.7" ry="1.84" fill="#2dec86"/>
<ellipse cx="392.1" cy="326.6" rx="2.7" ry="1.81" fill="#3ae78a"/>
<ellipse cx="392.1" cy="331.9" rx="2.7" ry="1.79" fill="#58dc93"/>
<ellipse cx="392.1" cy="337.1" rx="2.7" ry="1.79" fill="#74d09c"/>
<ellipse cx="392.1" cy="342.3" rx="2.7" ry="1.79" fill="#8bc1a4"/>
<ellipse cx="392.1" cy="347.5" rx="2.7" ry="1.78" fill="#9eb2ab"/>
<ellipse cx="392.1" cy="352.6" rx="2.7" ry="1.78" fill="#aaa5ad"/>
<ellipse cx="392.1" cy="357.8" rx="2.7" ry="1.77" fill="#b697b0"/>
<ellipse cx="392.1" cy="362.9" rx="2.7" ry="1.77" fill="#c87eb1"/>
<ellipse cx="392.1" cy="368.1" rx="2.7" ry="1.77" fill="#da64b1"/>
<ellipse cx="392.1" cy="373.2" rx="2.7" ry="1.76" fill="#e94cb2"/>
<ellipse cx="392.1" cy="378.3" rx="2.7" ry="1.76" fill="#f03db2"/>
<ellipse cx="392.1" cy="383.4" rx="2.7" ry="1.76" fill="#f62db2"/>
<ellipse cx="392.1" cy="388.5" rx="2.7" ry="1.75" fill="#f828b2"/>
<ellipse cx="392.1" cy="393.6" rx="2.7" ry="1.75" fill="#f828b2"/>
<ellipse cx="392.1" cy="398.6" rx="2.7" ry="1.75" fill="#f828b2"/>
<ellipse cx="392.1" cy="403.7" rx="2.7" ry="1.74" fill="#f828b2"/>
<ellipse cx="392.1" cy="408.8" rx="2.7" ry="1.74" fill="#f828b2"/>
<ellipse cx="392.1" cy="413.8" rx="2.7" ry="1.74" fill="#f828b2"/>
<ellipse cx="392.1" cy="418.8" rx="2.7" ry="1.73" fill="#f828b2"/>
<ellipse cx="392.1" cy="423.9" rx="2.7" ry="1.73" fill="#f828b2"/>
<ellipse cx="392.1" cy="428.9" rx="2.7" ry="1.73" fill="#f828b2"/>
<ellipse cx="392.1" cy="433.9" rx="2.7" ry="1.75" fill="#f828b2"/>
<ellipse cx="392.1" cy="438.9" rx="2.7" ry="1.77" fill="#f828b2"/>
<ellipse cx="392.1" cy="444.1" rx="2.7" ry="1.80" fill="#f828b2"/>
<ellipse cx="392.1" cy="449.3" rx="2.7" ry="1.83" fill="#f828b2"/>
<ellipse cx="392.1" cy="454.6" rx="2.7" ry="1.86" fill="#f828b2"/>
<ellipse cx="392.1" cy="460.0" rx="2.7" ry="1.89" fill="#f828b2"/>
<ellipse cx="392.1" cy="465.5" rx="2.7" ry="1.92" fill="#f828b2"/>
<ellipse cx="392.1" cy="471.1" rx="2.7" ry="1.95" fill="#f72bb2"/>
<ellipse cx="392.1" cy="476.7" rx="2.7" ry="1.98" fill="#ef3ab2"/>
<ellipse cx="392.1" cy="482.5" rx="2.7" ry="2.01" fill="#e84ab2"/>
<ellipse cx="392.1" cy="488.3" rx="2.7" ry="2.04" fill="#e05ab2"/>
<ellipse cx="392.1" cy="494.2" rx="2.7" ry="2.07" fill="#d071b1"/>
<ellipse cx="392.1" cy="500.2" rx="2.7" ry="2.09" fill="#bd8caf"/>
<ellipse cx="392.1" cy="506.3" rx="2.7" ry="2.12" fill="#aaa5ad"/>
<ellipse cx="392.1" cy="512.4" rx="2.7" ry="2.12" fill="#98b6a8"/>
<ellipse cx="392.1" cy="518.6" rx="2.7" ry="2.07" fill="#80c7a0"/>
<ellipse cx="392.1" cy="524.5" rx="2.7" ry="2.01" fill="#66d997"/>
<ellipse cx="392.1" cy="530.4" rx="2.7" ry="1.96" fill="#52e091"/>
<ellipse cx="392.1" cy="536.1" rx="2.7" ry="1.92" fill="#3ee68b"/>
<ellipse cx="392.1" cy="541.6" rx="2.7" ry="1.87" fill="#2feb87"/>
<ellipse cx="392.1" cy="547.0" rx="2.7" ry="1.82" fill="#2aed85"/>
<ellipse cx="392.1" cy="552.3" rx="2.7" ry="1.78" fill="#25ee84"/>
<ellipse cx="392.1" cy="557.5" rx="2.7" ry="1.73" fill="#21f082"/>
<ellipse cx="436.0" cy="313.0" rx="2.7" ry="1.20" fill="#20f082"/>
<ellipse cx="436.0" cy="315.0" rx="2.7" ry="1.25" fill="#23ef83"/>
<ellipse cx="436.0" cy="317.1" rx="2.7" ry="1.30" fill="#26ee84"/>
<ellipse cx="436.0" cy="319.3" rx="2.7" ry="1.36" fill="#29ed85"/>
<ellipse cx="436.0" cy="321.5" rx="2.7" ry="1.41" fill="#2cec86"/>
<ellipse cx="436.0" cy="323.9" rx="2.7" ry="1.47" fill="#2feb87"/>
<ellipse cx="436.0" cy="326.3" rx="2.7" ry="1.74" fill="#41e48c"/>
<ellipse cx="436.0" cy="329.7" rx="2.7" ry="1.55" fill="#6bd499"/>
<ellipse cx="436.0" cy="334.2" rx="2.7" ry="1.56" fill="#82c7a1"/>
<ellipse cx="436.0" cy="338.7" rx="2.7" ry="1.56" fill="#95baa8"/>
<ellipse cx="436.0" cy="343.2" rx="2.7" ry="1.56" fill="#a1afab"/>
<ellipse cx="436.0" cy="347.7" rx="2.7" ry="1.56" fill="#a9a6ad"/>
<ellipse cx="436.0" cy="352.3" rx="2.7" ry="1.56" fill="#b29caf"/>
<ellipse cx="436.0" cy="356.8" rx="2.7" ry="1.57" fill="#be8db0"/>
<ellipse cx="436.0" cy="361.4" rx="2.7" ry="1.57" fill="#cf74b1"/>
<ellipse cx="436.0" cy="365.9" rx="2.7" ry="1.57" fill="#e05bb2"/>
<ellipse cx="436.0" cy="370.4" rx="2.7" ry="1.57" fill="#ea4ab2"/>
<ellipse cx="436.0" cy="375.0" rx="2.7" ry="1.58" fill="#ef40b2"/>
<ellipse cx="436.0" cy="379.6" rx="2.7" ry="1.58" fill="#f335b2"/>
<ellipse cx="436.0" cy="384.1" rx="2.7" ry="1.58" fill="#f72ab2"/>
<ellipse cx="436.0" cy="388.7" rx="2.7" ry="1.58" fill="#f828b2"/>
<ellipse cx="436.0" cy="393.3" rx="2.7" ry="1.58" fill="#f828b2"/>
<ellipse cx="436.0" cy="397.9" rx="2.7" ry="1.59" fill="#f828b2"/>
<ellipse cx="436.0" cy="402.5" rx="2.7" ry="1.60" fill="#f828b2"/>
<ellipse cx="436.0" cy="407.1" rx="2.7" ry="1.62" fill="#f828b2"/>
<ellipse cx="436.0" cy="411.8" rx="2.7" ry="1.64" fill="#f828b2"/>
<ellipse cx="436.0" cy="416.6" rx="2.7" ry="1.67" fill="#f828b2"/>
<ellipse cx="436.0" cy="421.4" rx="2.7" ry="1.69" fill="#f828b2"/>
<ellipse cx="436.0" cy="426.3" rx="2.7" ry="1.71" fill="#f828b2"/>
<ellipse cx="436.0" cy="431.3" rx="2.7" ry="1.74" fill="#f828b2"/>
<ellipse cx="436.0" cy="436.3" rx="2.7" ry="1.76" fill="#f828b2"/>
<ellipse cx="436.0" cy="441.4" rx="2.7" ry="1.79" fill="#f828b2"/>
<ellipse cx="436.0" cy="446.6" rx="2.7" ry="1.81" fill="#f828b2"/>
<ellipse cx="436.0" cy="451.9" rx="2.7" ry="1.83" fill="#f828b2"/>
<ellipse cx="436.0" cy="457.2" rx="2.7" ry="1.83" fill="#f828b2"/>
<ellipse cx="436.0" cy="462.5" rx="2.7" ry="1.83" fill="#f828b2"/>
<ellipse cx="436.0" cy="467.8" rx="2.7" ry="1.83" fill="#f828b2"/>
<ellipse cx="436.0" cy="473.1" rx="2.7" ry="1.83" fill="#f828b2"/>
<ellipse cx="436.0" cy="478.4" rx="2.7" ry="1.83" fill="#f828b2"/>
<ellipse cx="436.0" cy="483.7" rx="2.7" ry="1.83" fill="#f828b2"/>
<ellipse cx="436.0" cy="489.0" rx="2.7" ry="1.83" fill="#f828b2"/>
<ellipse cx="436.0" cy="494.3" rx="2.7" ry="1.83" fill="#f138b2"/>
<ellipse cx="436.0" cy="499.6" rx="2.7" ry="1.83" fill="#e74bb2"/>
<ellipse cx="436.0" cy="504.9" rx="2.7" ry="1.83" fill="#de5fb2"/>
<ellipse cx="436.0" cy="510.2" rx="2.7" ry="1.83" fill="#cb79b0"/>
<ellipse cx="436.0" cy="515.5" rx="2.7" ry="1.83" fill="#b794af"/>
<ellipse cx="436.0" cy="520.8" rx="2.7" ry="1.83" fill="#a2abaa"/>
<ellipse cx="436.0" cy="526.1" rx="2.7" ry="1.81" fill="#8bbea3"/>
<ellipse cx="436.0" cy="531.3" rx="2.7" ry="1.79" fill="#75ce9c"/>
<ellipse cx="436.0" cy="536.5" rx="2.7" ry="1.77" fill="#62d796"/>
<ellipse cx="436.0" cy="541.6" rx="2.7" ry="1.75" fill="#4fdf90"/>
<ellipse cx="436.0" cy="546.7" rx="2.7" ry="1.73" fill="#3ee68b"/>
<ellipse cx="436.0" cy="551.7" rx="2.7" ry="1.72" fill="#32ea87"/>
<ellipse cx="436.0" cy="556.7" rx="2.7" ry="1.70" fill="#26ee84"/>
<ellipse cx="479.9" cy="287.0" rx="2.7" ry="1.20" fill="#20f082"/>
<ellipse cx="479.9" cy="289.0" rx="2.7" ry="1.20" fill="#23ef83"/>
<ellipse cx="479.9" cy="291.0" rx="2.7" ry="1.20" fill="#25ee84"/>
<ellipse cx="479.9" cy="293.0" rx="2.7" ry="1.20" fill="#28ed84"/>
<ellipse cx="479.9" cy="295.0" rx="2.7" ry="1.20" fill="#2aed85"/>
<ellipse cx="479.9" cy="297.0" rx="2.7" ry="1.20" fill="#2dec86"/>
<ellipse cx="479.9" cy="299.0" rx="2.7" ry="1.20" fill="#30eb87"/>
<ellipse cx="479.9" cy="302.0" rx="2.7" ry="1.72" fill="#46e28e"/>
<ellipse cx="479.9" cy="307.0" rx="2.7" ry="1.72" fill="#7acc9e"/>
<ellipse cx="479.9" cy="312.4" rx="2.7" ry="1.86" fill="#90bda6"/>
<ellipse cx="479.9" cy="318.4" rx="2.7" ry="2.07" fill="#a4abac"/>
<ellipse cx="479.9" cy="325.0" rx="2.7" ry="2.28" fill="#b796b0"/>
<ellipse cx="479.9" cy="332.0" rx="2.7" ry="2.30" fill="#ce76b1"/>
<ellipse cx="479.9" cy="339.0" rx="2.7" ry="2.30" fill="#e555b2"/>
<ellipse cx="479.9" cy="346.4" rx="2.7" ry="2.30" fill="#ed43b2"/>
<ellipse cx="479.9" cy="354.0" rx="2.7" ry="2.30" fill="#f334b2"/>
<ellipse cx="479.9" cy="361.6" rx="2.7" ry="2.30" fill="#f828b2"/>
<ellipse cx="479.9" cy="369.0" rx="2.7" ry="2.30" fill="#f828b2"/>
<ellipse cx="479.9" cy="377.0" rx="2.7" ry="2.30" fill="#f828b2"/>
<ellipse cx="479.9" cy="384.4" rx="2.7" ry="2.30" fill="#f828b2"/>
<ellipse cx="479.9" cy="392.4" rx="2.7" ry="2.30" fill="#f828b2"/>
<ellipse cx="479.9" cy="400.0" rx="2.7" ry="2.30" fill="#f828b2"/>
<ellipse cx="479.9" cy="407.6" rx="2.7" ry="2.30" fill="#f828b2"/>
<ellipse cx="479.9" cy="415.0" rx="2.7" ry="2.30" fill="#f828b2"/>
<ellipse cx="479.9" cy="422.0" rx="2.7" ry="2.30" fill="#f828b2"/>
<ellipse cx="479.9" cy="429.0" rx="2.7" ry="2.26" fill="#f828b2"/>
<ellipse cx="479.9" cy="435.6" rx="2.7" ry="2.16" fill="#f828b2"/>
<ellipse cx="479.9" cy="441.8" rx="2.7" ry="2.07" fill="#f828b2"/>
<ellipse cx="479.9" cy="447.8" rx="2.7" ry="1.98" fill="#f828b2"/>
<ellipse cx="479.9" cy="453.5" rx="2.7" ry="1.89" fill="#f828b2"/>
<ellipse cx="479.9" cy="459.0" rx="2.7" ry="1.81" fill="#f828b2"/>
<ellipse cx="479.9" cy="464.3" rx="2.7" ry="1.72" fill="#f828b2"/>
<ellipse cx="479.9" cy="469.3" rx="2.7" ry="1.64" fill="#f828b2"/>
<ellipse cx="479.9" cy="474.0" rx="2.7" ry="1.56" fill="#f828b2"/>
<ellipse cx="479.9" cy="478.5" rx="2.7" ry="1.58" fill="#f828b2"/>
<ellipse cx="479.9" cy="482.8" rx="2.7" ry="1.62" fill="#f828b2"/>
<ellipse cx="479.9" cy="487.0" rx="2.7" ry="1.76" fill="#f828b2"/>
<ellipse cx="479.9" cy="490.2" rx="2.7" ry="1.20" fill="#f828b2"/>
<ellipse cx="479.9" cy="492.2" rx="2.7" ry="1.20" fill="#f828b2"/>
<ellipse cx="479.9" cy="494.2" rx="2.7" ry="1.20" fill="#f828b2"/>
<ellipse cx="479.9" cy="496.2" rx="2.7" ry="1.20" fill="#f828b2"/>
<ellipse cx="479.9" cy="498.2" rx="2.7" ry="1.20" fill="#f828b2"/>
<ellipse cx="479.9" cy="500.2" rx="2.7" ry="1.20" fill="#f828b2"/>
<ellipse cx="479.9" cy="502.2" rx="2.7" ry="1.20" fill="#f828b2"/>
<ellipse cx="479.9" cy="504.2" rx="2.7" ry="1.20" fill="#f828b2"/>
<ellipse cx="479.9" cy="506.2" rx="2.7" ry="1.20" fill="#f828b2"/>
<ellipse cx="479.9" cy="508.2" rx="2.7" ry="1.20" fill="#f828b2"/>
<ellipse cx="479.9" cy="510.2" rx="2.7" ry="1.20" fill="#f828b2"/>
<ellipse cx="479.9" cy="512.2" rx="2.7" ry="1.20" fill="#f828b2"/>
<ellipse cx="479.9" cy="514.2" rx="2.7" ry="1.20" fill="#f828b2"/>
<ellipse cx="479.9" cy="516.2" rx="2.7" ry="1.20" fill="#f430b2"/>
<ellipse cx="479.9" cy="518.2" rx="2.7" ry="1.20" fill="#ed3eb2"/>
<ellipse cx="479.9" cy="520.2" rx="2.7" ry="1.20" fill="#e54cb2"/>
<ellipse cx="479.9" cy="522.2" rx="2.7" ry="1.20" fill="#de5ab2"/>
<ellipse cx="479.9" cy="524.2" rx="2.7" ry="1.20" fill="#d768b2"/>
<ellipse cx="479.9" cy="526.2" rx="2.7" ry="1.20" fill="#cd76b1"/>
<ellipse cx="479.9" cy="528.2" rx="2.7" ry="1.20" fill="#c285af"/>
<ellipse cx="479.9" cy="530.2" rx="2.7" ry="1.20" fill="#b793ae"/>
<ellipse cx="479.9" cy="532.2" rx="2.7" ry="1.20" fill="#aba2ac"/>
<ellipse cx="479.9" cy="534.2" rx="2.7" ry="1.20" fill="#a0b0ab"/>
<ellipse cx="479.9" cy="536.2" rx="2.7" ry="1.20" fill="#93bba7"/>
<ellipse cx="479.9" cy="538.2" rx="2.7" ry="1.20" fill="#84c3a2"/>
<ellipse cx="479.9" cy="540.2" rx="2.7" ry="1.20" fill="#76cb9d"/>
<ellipse cx="479.9" cy="542.2" rx="2.7" ry="1.20" fill="#67d498"/>
<ellipse cx="479.9" cy="544.2" rx="2.7" ry="1.20" fill="#59dc93"/>
<ellipse cx="479.9" cy="546.2" rx="2.7" ry="1.20" fill="#4ae28e"/>
<ellipse cx="479.9" cy="548.2" rx="2.7" ry="1.20" fill="#3ce78a"/>
<ellipse cx="479.9" cy="550.2" rx="2.7" ry="1.20" fill="#2dec86"/>
<ellipse cx="479.9" cy="552.2" rx="2.7" ry="1.20" fill="#20f082"/>
<ellipse cx="479.9" cy="554.2" rx="2.7" ry="1.20" fill="#20f082"/>
<ellipse cx="479.9" cy="556.2" rx="2.7" ry="1.20" fill="#20f082"/>
<ellipse cx="479.9" cy="558.2" rx="2.7" ry="1.20" fill="#20f082"/>
<ellipse cx="479.9" cy="560.2" rx="2.7" ry="1.20" fill="#20f082"/>
<ellipse cx="523.8" cy="255.0" rx="2.7" ry="1.63" fill="#20f082"/>
<ellipse cx="523.8" cy="259.0" rx="2.7" ry="1.63" fill="#23ef83"/>
<ellipse cx="523.8" cy="264.0" rx="2.7" ry="1.72" fill="#27ee84"/>
<ellipse cx="523.8" cy="269.0" rx="2.7" ry="1.72" fill="#3de78a"/>
<ellipse cx="523.8" cy="274.0" rx="2.7" ry="1.72" fill="#53e091"/>
<ellipse cx="523.8" cy="281.0" rx="2.7" ry="2.30" fill="#7acc9e"/>
<ellipse cx="523.8" cy="288.0" rx="2.7" ry="2.30" fill="#90bda6"/>
<ellipse cx="523.8" cy="296.6" rx="2.7" ry="2.30" fill="#9bb6aa"/>
<ellipse cx="523.8" cy="306.0" rx="2.7" ry="2.30" fill="#aea1ae"/>
<ellipse cx="523.8" cy="316.0" rx="2.7" ry="2.30" fill="#ba92b1"/>
<ellipse cx="523.8" cy="327.0" rx="2.7" ry="2.30" fill="#ce77b2"/>
<ellipse cx="523.8" cy="338.0" rx="2.7" ry="2.30" fill="#e259b2"/>
<ellipse cx="523.8" cy="349.0" rx="2.7" ry="2.30" fill="#ed43b2"/>
<ellipse cx="523.8" cy="360.0" rx="2.7" ry="2.30" fill="#f530b2"/>
<ellipse cx="523.8" cy="371.6" rx="2.7" ry="2.30" fill="#f828b2"/>
<ellipse cx="523.8" cy="382.6" rx="2.7" ry="2.30" fill="#f828b2"/>
<ellipse cx="523.8" cy="393.4" rx="2.7" ry="2.30" fill="#f828b2"/>
<ellipse cx="523.8" cy="404.0" rx="2.7" ry="2.30" fill="#f828b2"/>
<ellipse cx="523.8" cy="414.4" rx="2.7" ry="2.30" fill="#f828b2"/>
<ellipse cx="523.8" cy="424.0" rx="2.7" ry="2.30" fill="#f828b2"/>
<ellipse cx="523.8" cy="433.6" rx="2.7" ry="2.30" fill="#f828b2"/>
<ellipse cx="523.8" cy="442.6" rx="2.7" ry="2.30" fill="#f828b2"/>
<ellipse cx="523.8" cy="450.4" rx="2.7" ry="2.30" fill="#f828b2"/>
<ellipse cx="523.8" cy="458.0" rx="2.7" ry="2.30" fill="#f828b2"/>
<ellipse cx="523.8" cy="465.0" rx="2.7" ry="2.21" fill="#f828b2"/>
<ellipse cx="523.8" cy="471.4" rx="2.7" ry="2.07" fill="#f828b2"/>
<ellipse cx="523.8" cy="477.4" rx="2.7" ry="1.86" fill="#f828b2"/>
<ellipse cx="523.8" cy="482.8" rx="2.7" ry="1.66" fill="#f828b2"/>
<ellipse cx="523.8" cy="487.6" rx="2.7" ry="1.66" fill="#f828b2"/>
<ellipse cx="523.8" cy="492.4" rx="2.7" ry="1.66" fill="#f828b2"/>
<ellipse cx="523.8" cy="495.5" rx="2.7" ry="1.50" fill="#f828b2"/>
<ellipse cx="523.8" cy="498.0" rx="2.7" ry="1.50" fill="#f828b2"/>
<ellipse cx="523.8" cy="500.5" rx="2.7" ry="1.50" fill="#f828b2"/>
<ellipse cx="523.8" cy="503.0" rx="2.7" ry="1.50" fill="#f828b2"/>
<ellipse cx="523.8" cy="505.5" rx="2.7" ry="1.50" fill="#f82bb3"/>
<ellipse cx="523.8" cy="508.0" rx="2.7" ry="1.50" fill="#fa3dbb"/>
<ellipse cx="523.8" cy="510.5" rx="2.7" ry="1.50" fill="#fb4ec2"/>
<ellipse cx="523.8" cy="513.0" rx="2.7" ry="1.50" fill="#fc5fc9"/>
<ellipse cx="523.8" cy="515.5" rx="2.7" ry="1.50" fill="#fe71d0"/>
<ellipse cx="523.8" cy="518.0" rx="2.7" ry="1.50" fill="#ff82d7"/>
<ellipse cx="523.8" cy="520.5" rx="2.7" ry="1.50" fill="#ff96dd"/>
<ellipse cx="523.8" cy="523.0" rx="2.7" ry="1.50" fill="#ffabe4"/>
<ellipse cx="523.8" cy="525.5" rx="2.7" ry="1.50" fill="#ffbfea"/>
<ellipse cx="523.8" cy="528.0" rx="2.7" ry="1.50" fill="#e8bddb"/>
<ellipse cx="523.8" cy="530.5" rx="2.7" ry="1.53" fill="#ccb6c8"/>
<ellipse cx="523.8" cy="533.0" rx="2.7" ry="1.68" fill="#afaeb3"/>
<ellipse cx="523.8" cy="535.9" rx="2.7" ry="1.79" fill="#9ab3a9"/>
<ellipse cx="523.8" cy="538.9" rx="2.7" ry="1.73" fill="#8abfa3"/>
<ellipse cx="523.8" cy="542.3" rx="2.7" ry="1.71" fill="#78cd9d"/>
<ellipse cx="523.8" cy="545.9" rx="2.7" ry="1.69" fill="#5fd895"/>
<ellipse cx="523.8" cy="549.5" rx="2.7" ry="1.68" fill="#45e48d"/>
<ellipse cx="523.8" cy="553.3" rx="2.7" ry="1.66" fill="#36e988"/>
<ellipse cx="523.8" cy="557.1" rx="2.7" ry="1.64" fill="#27ee84"/>
<ellipse cx="567.7" cy="236.3" rx="2.7" ry="2.10" fill="#20f082"/>
<ellipse cx="567.7" cy="242.4" rx="2.7" ry="2.10" fill="#25ee83"/>
<ellipse cx="567.7" cy="249.6" rx="2.7" ry="2.30" fill="#2bed85"/>
<ellipse cx="567.7" cy="258.0" rx="2.7" ry="2.30" fill="#31ea87"/>
<ellipse cx="567.7" cy="267.4" rx="2.7" ry="2.30" fill="#51e090"/>
<ellipse cx="567.7" cy="278.0" rx="2.7" ry="2.30" fill="#76ce9c"/>
<ellipse cx="567.7" cy="289.6" rx="2.7" ry="2.30" fill="#93bba7"/>
<ellipse cx="567.7" cy="302.4" rx="2.7" ry="2.30" fill="#a1afab"/>
<ellipse cx="567.7" cy="315.6" rx="2.7" ry="2.30" fill="#ba93b1"/>
<ellipse cx="567.7" cy="329.6" rx="2.7" ry="2.30" fill="#cd78b2"/>
<ellipse cx="567.7" cy="343.4" rx="2.7" ry="2.30" fill="#de5eb2"/>
<ellipse cx="567.7" cy="357.4" rx="2.7" ry="2.30" fill="#eb47b2"/>
<ellipse cx="567.7" cy="371.4" rx="2.7" ry="2.30" fill="#f335b2"/>
<ellipse cx="567.7" cy="383.7" rx="2.7" ry="2.30" fill="#f829b2"/>
<ellipse cx="567.7" cy="397.1" rx="2.7" ry="2.30" fill="#f828b2"/>
<ellipse cx="567.7" cy="409.4" rx="2.7" ry="2.30" fill="#f828b2"/>
<ellipse cx="567.7" cy="420.9" rx="2.7" ry="2.30" fill="#f828b2"/>
<ellipse cx="567.7" cy="431.4" rx="2.7" ry="2.30" fill="#f828b2"/>
<ellipse cx="567.7" cy="441.4" rx="2.7" ry="2.30" fill="#f828b2"/>
<ellipse cx="567.7" cy="450.0" rx="2.7" ry="2.30" fill="#f828b2"/>
<ellipse cx="567.7" cy="458.0" rx="2.7" ry="2.30" fill="#f828b2"/>
<ellipse cx="567.7" cy="465.0" rx="2.7" ry="2.07" fill="#f828b2"/>
<ellipse cx="567.7" cy="471.0" rx="2.7" ry="1.72" fill="#f828b2"/>
<ellipse cx="567.7" cy="476.0" rx="2.7" ry="1.72" fill="#f828b2"/>
<ellipse cx="567.7" cy="481.0" rx="2.7" ry="1.72" fill="#f832b6"/>
<ellipse cx="567.7" cy="483.0" rx="2.7" ry="1.20" fill="#f945bd"/>
<ellipse cx="567.7" cy="485.0" rx="2.7" ry="1.20" fill="#fa58c4"/>
<ellipse cx="567.7" cy="487.0" rx="2.7" ry="1.20" fill="#fb6ccb"/>
<ellipse cx="567.7" cy="489.0" rx="2.7" ry="1.20" fill="#fc7fd2"/>
<ellipse cx="567.7" cy="491.0" rx="2.7" ry="1.20" fill="#fd93d9"/>
<ellipse cx="567.7" cy="493.0" rx="2.7" ry="1.20" fill="#fea6e0"/>
<ellipse cx="567.7" cy="495.0" rx="2.7" ry="1.20" fill="#ffb9e7"/>
<ellipse cx="567.7" cy="497.0" rx="2.7" ry="1.20" fill="#feb8e7"/>
<ellipse cx="567.7" cy="499.0" rx="2.7" ry="1.20" fill="#fea2df"/>
<ellipse cx="567.7" cy="501.0" rx="2.7" ry="1.20" fill="#fc8cd7"/>
<ellipse cx="567.7" cy="503.0" rx="2.7" ry="1.20" fill="#fc76ce"/>
<ellipse cx="567.7" cy="505.0" rx="2.7" ry="1.20" fill="#fa5fc6"/>
<ellipse cx="567.7" cy="507.0" rx="2.7" ry="1.20" fill="#fa49be"/>
<ellipse cx="567.7" cy="509.0" rx="2.7" ry="1.20" fill="#f833b6"/>
<ellipse cx="567.7" cy="511.0" rx="2.7" ry="1.80" fill="#f42fb2"/>
<ellipse cx="567.7" cy="514.0" rx="2.7" ry="1.62" fill="#ea44b2"/>
<ellipse cx="567.7" cy="518.1" rx="2.7" ry="1.61" fill="#db60b2"/>
<ellipse cx="567.7" cy="522.2" rx="2.7" ry="1.59" fill="#c97cb1"/>
<ellipse cx="567.7" cy="526.5" rx="2.7" ry="1.57" fill="#b596ae"/>
<ellipse cx="567.7" cy="530.9" rx="2.7" ry="1.56" fill="#9eb0aa"/>
<ellipse cx="567.7" cy="535.4" rx="2.7" ry="1.61" fill="#81c5a0"/>
<ellipse cx="567.7" cy="540.1" rx="2.7" ry="1.66" fill="#63da96"/>
<ellipse cx="567.7" cy="544.9" rx="2.7" ry="1.70" fill="#45e48d"/>
<ellipse cx="567.7" cy="549.8" rx="2.7" ry="1.76" fill="#2eec86"/>
<ellipse cx="567.7" cy="554.9" rx="2.7" ry="1.81" fill="#24ef83"/>
<ellipse cx="611.6" cy="253.0" rx="2.7" ry="2.30" fill="#20f082"/>
<ellipse cx="611.6" cy="260.0" rx="2.7" ry="2.30" fill="#25ee83"/>
<ellipse cx="611.6" cy="268.4" rx="2.7" ry="2.30" fill="#2bec85"/>
<ellipse cx="611.6" cy="277.4" rx="2.7" ry="2.30" fill="#32ea87"/>
<ellipse cx="611.6" cy="287.4" rx="2.7" ry="2.30" fill="#54df91"/>
<ellipse cx="611.6" cy="298.0" rx="2.7" ry="2.30" fill="#7acc9e"/>
<ellipse cx="611.6" cy="309.6" rx="2.7" ry="2.30" fill="#94bba7"/>
<ellipse cx="611.6" cy="321.6" rx="2.7" ry="2.30" fill="#a0b0ab"/>
<ellipse cx="611.6" cy="333.6" rx="2.7" ry="2.30" fill="#b697b0"/>
<ellipse cx="611.6" cy="346.0" rx="2.7" ry="2.30" fill="#ca7db2"/>
<ellipse cx="611.6" cy="358.4" rx="2.7" ry="2.30" fill="#de5eb2"/>
<ellipse cx="611.6" cy="370.4" rx="2.7" ry="2.30" fill="#ec47b2"/>
<ellipse cx="611.6" cy="382.1" rx="2.7" ry="2.30" fill="#f62eb2"/>
<ellipse cx="611.6" cy="392.9" rx="2.7" ry="2.30" fill="#f828b2"/>
<ellipse cx="611.6" cy="403.4" rx="2.7" ry="2.30" fill="#f828b2"/>
<ellipse cx="611.6" cy="413.0" rx="2.7" ry="2.30" fill="#f828b2"/>
<ellipse cx="611.6" cy="421.4" rx="2.7" ry="2.30" fill="#f828b2"/>
<ellipse cx="611.6" cy="429.5" rx="2.7" ry="2.30" fill="#f828b2"/>
<ellipse cx="611.6" cy="437.0" rx="2.7" ry="2.28" fill="#f828b2"/>
<ellipse cx="611.6" cy="443.6" rx="2.7" ry="1.86" fill="#f828b2"/>
<ellipse cx="611.6" cy="449.0" rx="2.7" ry="1.55" fill="#f828b2"/>
<ellipse cx="611.6" cy="453.5" rx="2.7" ry="1.55" fill="#f952c1"/>
<ellipse cx="611.6" cy="455.5" rx="2.7" ry="1.20" fill="#fa6aca"/>
<ellipse cx="611.6" cy="457.5" rx="2.7" ry="1.20" fill="#fb82d2"/>
<ellipse cx="611.6" cy="459.5" rx="2.7" ry="1.20" fill="#fc99db"/>
<ellipse cx="611.6" cy="461.5" rx="2.7" ry="1.20" fill="#fcb1e3"/>
<ellipse cx="611.6" cy="463.5" rx="2.7" ry="1.20" fill="#fdc9ec"/>
<ellipse cx="611.6" cy="465.5" rx="2.7" ry="1.20" fill="#fee1f4"/>
<ellipse cx="611.6" cy="467.5" rx="2.7" ry="1.20" fill="#fff9fd"/>
<ellipse cx="611.6" cy="469.5" rx="2.7" ry="1.20" fill="#fee4f5"/>
<ellipse cx="611.6" cy="471.5" rx="2.7" ry="1.20" fill="#fdc0e9"/>
<ellipse cx="611.6" cy="473.5" rx="2.7" ry="1.20" fill="#fc9cdc"/>
<ellipse cx="611.6" cy="475.5" rx="2.7" ry="1.20" fill="#fb79cf"/>
<ellipse cx="611.6" cy="477.5" rx="2.7" ry="1.20" fill="#f955c2"/>
<ellipse cx="611.6" cy="479.5" rx="2.7" ry="1.20" fill="#f831b5"/>
<ellipse cx="611.6" cy="481.5" rx="2.7" ry="1.20" fill="#f72ab2"/>
<ellipse cx="611.6" cy="483.5" rx="2.7" ry="1.20" fill="#f62db2"/>
<ellipse cx="611.6" cy="485.5" rx="2.7" ry="1.20" fill="#f52fb2"/>
<ellipse cx="611.6" cy="487.5" rx="2.7" ry="1.20" fill="#f432b2"/>
<ellipse cx="611.6" cy="492.5" rx="2.7" ry="1.55" fill="#f139b2"/>
<ellipse cx="611.6" cy="497.0" rx="2.7" ry="1.55" fill="#ef3fb2"/>
<ellipse cx="611.6" cy="502.4" rx="2.7" ry="1.76" fill="#e253b2"/>
<ellipse cx="611.6" cy="507.5" rx="2.7" ry="1.76" fill="#cb77b1"/>
<ellipse cx="611.6" cy="512.6" rx="2.7" ry="1.76" fill="#b598b0"/>
<ellipse cx="611.6" cy="518.0" rx="2.7" ry="1.86" fill="#a6a9ac"/>
<ellipse cx="611.6" cy="524.0" rx="2.7" ry="2.07" fill="#94baa8"/>
<ellipse cx="611.6" cy="530.0" rx="2.7" ry="2.07" fill="#80c8a0"/>
<ellipse cx="611.6" cy="536.0" rx="2.7" ry="2.07" fill="#6ad599"/>
<ellipse cx="611.6" cy="542.6" rx="2.7" ry="2.28" fill="#4de18f"/>
<ellipse cx="611.6" cy="549.2" rx="2.7" ry="2.28" fill="#35e988"/>
<ellipse cx="611.6" cy="555.8" rx="2.7" ry="2.28" fill="#21f082"/>
<ellipse cx="655.5" cy="317.6" rx="2.7" ry="1.57" fill="#21f082"/>
<ellipse cx="655.5" cy="322.0" rx="2.7" ry="1.57" fill="#2cec86"/>
<ellipse cx="655.5" cy="326.4" rx="2.7" ry="1.57" fill="#37e989"/>
<ellipse cx="655.5" cy="331.4" rx="2.7" ry="1.72" fill="#45e48d"/>
<ellipse cx="655.5" cy="336.6" rx="2.7" ry="1.79" fill="#6cd19a"/>
<ellipse cx="655.5" cy="342.0" rx="2.7" ry="1.86" fill="#8bbfa4"/>
<ellipse cx="655.5" cy="347.4" rx="2.7" ry="1.79" fill="#9cb2a9"/>
<ellipse cx="655.5" cy="352.6" rx="2.7" ry="1.79" fill="#aba3ae"/>
<ellipse cx="655.5" cy="358.0" rx="2.7" ry="1.79" fill="#ba92b1"/>
<ellipse cx="655.5" cy="363.2" rx="2.7" ry="1.79" fill="#cb7cb2"/>
<ellipse cx="655.5" cy="368.4" rx="2.7" ry="1.79" fill="#dc62b2"/>
<ellipse cx="655.5" cy="373.6" rx="2.7" ry="1.66" fill="#ea4bb2"/>
<ellipse cx="655.5" cy="378.4" rx="2.7" ry="1.59" fill="#f03cb2"/>
<ellipse cx="655.5" cy="383.0" rx="2.7" ry="1.57" fill="#f62eb2"/>
<ellipse cx="655.5" cy="387.4" rx="2.7" ry="1.60" fill="#f828b2"/>
<ellipse cx="655.5" cy="391.6" rx="2.7" ry="1.63" fill="#f828b2"/>
<ellipse cx="655.5" cy="395.6" rx="2.7" ry="1.63" fill="#f828b2"/>
<ellipse cx="655.5" cy="399.6" rx="2.7" ry="1.63" fill="#eb29a8"/>
<ellipse cx="655.5" cy="403.6" rx="2.7" ry="1.63" fill="#ca2c90"/>
<ellipse cx="655.5" cy="407.6" rx="2.7" ry="1.63" fill="#be2d87"/>
<ellipse cx="655.5" cy="411.6" rx="2.7" ry="1.63" fill="#be2d87"/>
<ellipse cx="655.5" cy="415.6" rx="2.7" ry="1.63" fill="#be2d87"/>
<ellipse cx="655.5" cy="419.6" rx="2.7" ry="1.63" fill="#be2d87"/>
<ellipse cx="655.5" cy="423.6" rx="2.7" ry="1.63" fill="#be2d87"/>
<ellipse cx="655.5" cy="427.6" rx="2.7" ry="1.62" fill="#be2d87"/>
<ellipse cx="655.5" cy="431.7" rx="2.7" ry="1.62" fill="#be2d87"/>
<ellipse cx="655.5" cy="435.8" rx="2.7" ry="1.61" fill="#be2d87"/>
<ellipse cx="655.5" cy="439.9" rx="2.7" ry="1.61" fill="#be2d87"/>
<ellipse cx="655.5" cy="444.1" rx="2.7" ry="1.60" fill="#d52b98"/>
<ellipse cx="655.5" cy="450.0" rx="2.7" ry="1.57" fill="#f828b2"/>
<ellipse cx="655.5" cy="454.4" rx="2.7" ry="1.57" fill="#f828b2"/>
<ellipse cx="655.5" cy="459.6" rx="2.7" ry="1.72" fill="#f828b2"/>
<ellipse cx="655.5" cy="464.6" rx="2.7" ry="1.72" fill="#f828b2"/>
<ellipse cx="655.5" cy="470.0" rx="2.7" ry="1.86" fill="#f828b2"/>
<ellipse cx="655.5" cy="475.4" rx="2.7" ry="1.86" fill="#f828b2"/>
<ellipse cx="655.5" cy="481.0" rx="2.7" ry="1.93" fill="#f828b2"/>
<ellipse cx="655.5" cy="487.0" rx="2.7" ry="2.07" fill="#f828b2"/>
<ellipse cx="655.5" cy="493.0" rx="2.7" ry="2.07" fill="#f828b2"/>
<ellipse cx="655.5" cy="499.4" rx="2.7" ry="2.10" fill="#e44db2"/>
<ellipse cx="655.5" cy="505.5" rx="2.7" ry="2.10" fill="#c87fb2"/>
<ellipse cx="655.5" cy="512.0" rx="2.7" ry="2.07" fill="#b09eae"/>
<ellipse cx="655.5" cy="518.0" rx="2.7" ry="2.07" fill="#9bb3a9"/>
<ellipse cx="655.5" cy="525.0" rx="2.7" ry="2.28" fill="#85c4a2"/>
<ellipse cx="655.5" cy="531.6" rx="2.7" ry="2.21" fill="#74cf9c"/>
<ellipse cx="655.5" cy="538.0" rx="2.7" ry="2.21" fill="#64da96"/>
<ellipse cx="655.5" cy="544.4" rx="2.7" ry="2.14" fill="#49e38e"/>
<ellipse cx="655.5" cy="550.6" rx="2.7" ry="2.14" fill="#30eb87"/>
<ellipse cx="655.5" cy="557.0" rx="2.7" ry="2.21" fill="#20f082"/>
<ellipse cx="699.4" cy="366.0" rx="2.7" ry="1.20" fill="#ffffff"/>
<ellipse cx="699.4" cy="368.0" rx="2.7" ry="1.20" fill="#ffffff"/>
<ellipse cx="699.4" cy="370.0" rx="2.7" ry="1.20" fill="#ffffff"/>
<ellipse cx="699.4" cy="372.0" rx="2.7" ry="1.20" fill="#ffffff"/>
<ellipse cx="699.4" cy="374.0" rx="2.7" ry="1.20" fill="#ffffff"/>
<ellipse cx="699.4" cy="380.5" rx="2.7" ry="1.58" fill="#f129ad"/>
<ellipse cx="699.4" cy="384.8" rx="2.7" ry="1.58" fill="#de2a9f"/>
<ellipse cx="699.4" cy="389.1" rx="2.7" ry="1.58" fill="#cb2c91"/>
<ellipse cx="699.4" cy="393.4" rx="2.7" ry="1.58" fill="#be2d87"/>
<ellipse cx="699.4" cy="398.6" rx="2.7" ry="1.79" fill="#be2d87"/>
<ellipse cx="699.4" cy="405.0" rx="2.7" ry="2.07" fill="#be2d87"/>
<ellipse cx="699.4" cy="411.0" rx="2.7" ry="2.07" fill="#be2d87"/>
<ellipse cx="699.4" cy="417.6" rx="2.7" ry="2.28" fill="#be2d87"/>
<ellipse cx="699.4" cy="424.4" rx="2.7" ry="2.30" fill="#be2d87"/>
<ellipse cx="699.4" cy="431.4" rx="2.7" ry="2.30" fill="#c12d89"/>
<ellipse cx="699.4" cy="438.4" rx="2.7" ry="2.30" fill="#ce2c93"/>
<ellipse cx="699.4" cy="445.4" rx="2.7" ry="2.30" fill="#dc2a9d"/>
<ellipse cx="699.4" cy="452.4" rx="2.7" ry="2.30" fill="#e929a7"/>
<ellipse cx="699.4" cy="459.4" rx="2.7" ry="2.28" fill="#f728b1"/>
<ellipse cx="699.4" cy="466.0" rx="2.7" ry="2.28" fill="#f828b2"/>
<ellipse cx="699.4" cy="473.0" rx="2.7" ry="2.28" fill="#f828b2"/>
<ellipse cx="699.4" cy="479.6" rx="2.7" ry="2.21" fill="#f828b2"/>
<ellipse cx="699.4" cy="486.0" rx="2.7" ry="2.07" fill="#f828b2"/>
<ellipse cx="699.4" cy="492.0" rx="2.7" ry="2.07" fill="#f828b2"/>
<ellipse cx="699.4" cy="498.0" rx="2.7" ry="2.07" fill="#f333b2"/>
<ellipse cx="699.4" cy="504.0" rx="2.7" ry="2.07" fill="#e849b2"/>
<ellipse cx="699.4" cy="510.0" rx="2.7" ry="1.93" fill="#de5fb2"/>
<ellipse cx="699.4" cy="515.6" rx="2.7" ry="1.93" fill="#c87eb1"/>
<ellipse cx="699.4" cy="521.2" rx="2.7" ry="1.93" fill="#b39aaf"/>
<ellipse cx="699.4" cy="526.8" rx="2.7" ry="1.79" fill="#a4acac"/>
<ellipse cx="699.4" cy="532.0" rx="2.7" ry="1.79" fill="#92bca7"/>
<ellipse cx="699.4" cy="537.2" rx="2.7" ry="1.79" fill="#7bcb9e"/>
<ellipse cx="699.4" cy="542.4" rx="2.7" ry="1.66" fill="#62d896"/>
<ellipse cx="699.4" cy="547.2" rx="2.7" ry="1.57" fill="#46e38d"/>
<ellipse cx="699.4" cy="551.6" rx="2.7" ry="1.63" fill="#37e989"/>
<ellipse cx="699.4" cy="555.6" rx="2.7" ry="1.73" fill="#2bed85"/>
<ellipse cx="699.4" cy="559.0" rx="2.7" ry="1.73" fill="#20f082"/>
<ellipse cx="743.3" cy="368.0" rx="2.7" ry="1.20" fill="#8eefba"/>
<ellipse cx="743.3" cy="370.0" rx="2.7" ry="1.20" fill="#d9fae8"/>
<ellipse cx="743.3" cy="372.0" rx="2.7" ry="1.20" fill="#fed4f0"/>
<ellipse cx="743.3" cy="374.0" rx="2.7" ry="1.20" fill="#fb7ed1"/>
<ellipse cx="743.3" cy="376.0" rx="2.7" ry="1.20" fill="#f828b2"/>
<ellipse cx="743.3" cy="378.0" rx="2.7" ry="1.20" fill="#f828b2"/>
<ellipse cx="743.3" cy="380.0" rx="2.7" ry="1.20" fill="#f828b2"/>
<ellipse cx="743.3" cy="382.0" rx="2.7" ry="1.20" fill="#f828b2"/>
<ellipse cx="743.3" cy="384.0" rx="2.7" ry="1.20" fill="#f828b2"/>
<ellipse cx="743.3" cy="386.0" rx="2.7" ry="1.20" fill="#f828b2"/>
<ellipse cx="743.3" cy="388.0" rx="2.7" ry="1.20" fill="#f828b2"/>
<ellipse cx="743.3" cy="392.0" rx="2.7" ry="1.72" fill="#f828b2"/>
<ellipse cx="743.3" cy="397.0" rx="2.7" ry="1.72" fill="#f828b2"/>
<ellipse cx="743.3" cy="402.4" rx="2.7" ry="1.86" fill="#f828b2"/>
<ellipse cx="743.3" cy="408.0" rx="2.7" ry="1.93" fill="#f828b2"/>
<ellipse cx="743.3" cy="414.0" rx="2.7" ry="2.07" fill="#f828b2"/>
<ellipse cx="743.3" cy="420.0" rx="2.7" ry="2.07" fill="#f828b2"/>
<ellipse cx="743.3" cy="426.4" rx="2.7" ry="2.21" fill="#f828b2"/>
<ellipse cx="743.3" cy="433.6" rx="2.7" ry="2.30" fill="#f828b2"/>
<ellipse cx="743.3" cy="441.0" rx="2.7" ry="2.30" fill="#f828b2"/>
<ellipse cx="743.3" cy="448.4" rx="2.7" ry="2.30" fill="#f828b2"/>
<ellipse cx="743.3" cy="456.0" rx="2.7" ry="2.30" fill="#f828b2"/>
<ellipse cx="743.3" cy="463.4" rx="2.7" ry="2.30" fill="#f828b2"/>
<ellipse cx="743.3" cy="470.6" rx="2.7" ry="2.30" fill="#f828b2"/>
<ellipse cx="743.3" cy="478.0" rx="2.7" ry="2.30" fill="#f828b2"/>
<ellipse cx="743.3" cy="485.0" rx="2.7" ry="2.30" fill="#f828b2"/>
<ellipse cx="743.3" cy="492.0" rx="2.7" ry="2.21" fill="#f828b2"/>
<ellipse cx="743.3" cy="498.4" rx="2.7" ry="2.07" fill="#f828b2"/>
<ellipse cx="743.3" cy="504.4" rx="2.7" ry="1.93" fill="#f828b2"/>
<ellipse cx="743.3" cy="510.0" rx="2.7" ry="1.72" fill="#f828b2"/>
<ellipse cx="743.3" cy="515.0" rx="2.7" ry="1.59" fill="#f828b2"/>
<ellipse cx="743.3" cy="519.6" rx="2.7" ry="1.57" fill="#fa48bf"/>
<ellipse cx="743.3" cy="524.0" rx="2.7" ry="1.57" fill="#fd66cc"/>
<ellipse cx="743.3" cy="526.5" rx="2.7" ry="1.32" fill="#fe78d3"/>
<ellipse cx="743.3" cy="528.7" rx="2.7" ry="1.31" fill="#ff87d8"/>
<ellipse cx="743.3" cy="530.9" rx="2.7" ry="1.31" fill="#ff95dd"/>
<ellipse cx="743.3" cy="533.1" rx="2.7" ry="1.30" fill="#ffa3e1"/>
<ellipse cx="743.3" cy="535.2" rx="2.7" ry="1.29" fill="#ffb1e5"/>
<ellipse cx="743.3" cy="537.4" rx="2.7" ry="1.28" fill="#ffbfea"/>
<ellipse cx="743.3" cy="539.5" rx="2.7" ry="1.28" fill="#dec8da"/>
<ellipse cx="743.3" cy="541.6" rx="2.7" ry="1.27" fill="#b1d0c2"/>
<ellipse cx="743.3" cy="543.8" rx="2.7" ry="1.26" fill="#83d8aa"/>
<ellipse cx="743.3" cy="545.9" rx="2.7" ry="1.25" fill="#56df93"/>
<ellipse cx="743.3" cy="548.0" rx="2.7" ry="1.25" fill="#42e58c"/>
<ellipse cx="743.3" cy="550.0" rx="2.7" ry="1.24" fill="#31eb87"/>
<ellipse cx="743.3" cy="552.1" rx="2.7" ry="1.23" fill="#20f082"/>
<ellipse cx="743.3" cy="554.2" rx="2.7" ry="1.23" fill="#20f082"/>
<ellipse cx="743.3" cy="556.2" rx="2.7" ry="1.22" fill="#20f082"/>
<ellipse cx="743.3" cy="558.2" rx="2.7" ry="1.21" fill="#20f082"/>
<ellipse cx="743.3" cy="560.3" rx="2.7" ry="1.21" fill="#20f082"/>
<ellipse cx="787.2" cy="321.0" rx="2.7" ry="2.30" fill="#20f082"/>
<ellipse cx="787.2" cy="329.4" rx="2.7" ry="2.30" fill="#25ef83"/>
<ellipse cx="787.2" cy="337.0" rx="2.7" ry="2.30" fill="#29ed85"/>
<ellipse cx="787.2" cy="345.0" rx="2.7" ry="2.30" fill="#2dec86"/>
<ellipse cx="787.2" cy="352.4" rx="2.7" ry="2.30" fill="#33ea88"/>
<ellipse cx="787.2" cy="360.0" rx="2.7" ry="2.30" fill="#5add93"/>
<ellipse cx="787.2" cy="367.4" rx="2.7" ry="2.30" fill="#76ce9c"/>
<ellipse cx="787.2" cy="374.4" rx="2.7" ry="2.28" fill="#8ac1a4"/>
<ellipse cx="787.2" cy="381.0" rx="2.7" ry="2.07" fill="#99b7a9"/>
<ellipse cx="787.2" cy="387.0" rx="2.7" ry="1.93" fill="#a9a6ad"/>
<ellipse cx="787.2" cy="392.6" rx="2.7" ry="1.86" fill="#b994b0"/>
<ellipse cx="787.2" cy="398.0" rx="2.7" ry="1.86" fill="#c87eb1"/>
<ellipse cx="787.2" cy="403.6" rx="2.7" ry="1.66" fill="#d867b2"/>
<ellipse cx="787.2" cy="408.4" rx="2.7" ry="1.59" fill="#e452b2"/>
<ellipse cx="787.2" cy="413.0" rx="2.7" ry="1.57" fill="#ee41b2"/>
<ellipse cx="787.2" cy="417.4" rx="2.7" ry="1.60" fill="#f238b2"/>
<ellipse cx="787.2" cy="421.6" rx="2.7" ry="1.63" fill="#f52fb2"/>
<ellipse cx="787.2" cy="425.6" rx="2.7" ry="1.63" fill="#f828b2"/>
<ellipse cx="787.2" cy="429.6" rx="2.7" ry="1.63" fill="#f828b2"/>
<ellipse cx="787.2" cy="433.6" rx="2.7" ry="1.63" fill="#f828b2"/>
<ellipse cx="787.2" cy="437.6" rx="2.7" ry="1.73" fill="#f828b2"/>
<ellipse cx="787.2" cy="441.0" rx="2.7" ry="1.73" fill="#f828b2"/>
<ellipse cx="787.2" cy="444.4" rx="2.7" ry="1.73" fill="#f828b2"/>
<ellipse cx="787.2" cy="448.0" rx="2.7" ry="1.70" fill="#f828b2"/>
<ellipse cx="787.2" cy="451.2" rx="2.7" ry="1.75" fill="#f828b2"/>
<ellipse cx="787.2" cy="454.5" rx="2.7" ry="1.75" fill="#f828b2"/>
<ellipse cx="787.2" cy="457.8" rx="2.7" ry="1.75" fill="#f828b2"/>
<ellipse cx="787.2" cy="461.1" rx="2.7" ry="1.74" fill="#f828b2"/>
<ellipse cx="787.2" cy="464.5" rx="2.7" ry="1.74" fill="#f828b2"/>
<ellipse cx="787.2" cy="467.8" rx="2.7" ry="1.74" fill="#f828b2"/>
<ellipse cx="787.2" cy="471.2" rx="2.7" ry="1.74" fill="#f828b2"/>
<ellipse cx="787.2" cy="474.5" rx="2.7" ry="1.74" fill="#f828b2"/>
<ellipse cx="787.2" cy="477.9" rx="2.7" ry="1.74" fill="#f828b2"/>
<ellipse cx="787.2" cy="481.3" rx="2.7" ry="1.73" fill="#f828b2"/>
<ellipse cx="787.2" cy="484.7" rx="2.7" ry="1.73" fill="#f828b2"/>
<ellipse cx="787.2" cy="488.1" rx="2.7" ry="1.73" fill="#f828b2"/>
<ellipse cx="787.2" cy="491.5" rx="2.7" ry="1.73" fill="#f828b2"/>
<ellipse cx="787.2" cy="494.9" rx="2.7" ry="1.73" fill="#f828b2"/>
<ellipse cx="787.2" cy="498.4" rx="2.7" ry="1.73" fill="#f828b2"/>
<ellipse cx="787.2" cy="501.8" rx="2.7" ry="1.72" fill="#f828b2"/>
<ellipse cx="787.2" cy="505.3" rx="2.7" ry="1.72" fill="#f828b2"/>
<ellipse cx="787.2" cy="508.7" rx="2.7" ry="1.72" fill="#f828b2"/>
<ellipse cx="787.2" cy="512.2" rx="2.7" ry="1.72" fill="#f82ab3"/>
<ellipse cx="787.2" cy="515.7" rx="2.7" ry="1.73" fill="#fa44bd"/>
<ellipse cx="787.2" cy="519.1" rx="2.7" ry="1.75" fill="#fc5dc8"/>
<ellipse cx="787.2" cy="522.0" rx="2.7" ry="1.50" fill="#fe73d1"/>
<ellipse cx="787.2" cy="524.5" rx="2.7" ry="1.49" fill="#ff86d8"/>
<ellipse cx="787.2" cy="527.0" rx="2.7" ry="1.48" fill="#ff98de"/>
<ellipse cx="787.2" cy="529.5" rx="2.7" ry="1.47" fill="#ffa9e3"/>
<ellipse cx="787.2" cy="531.9" rx="2.7" ry="1.46" fill="#ffbbe9"/>
<ellipse cx="787.2" cy="534.3" rx="2.7" ry="1.44" fill="#e5c7dd"/>
<ellipse cx="787.2" cy="536.7" rx="2.7" ry="1.43" fill="#b7cec3"/>
<ellipse cx="787.2" cy="539.1" rx="2.7" ry="1.42" fill="#88d5aa"/>
<ellipse cx="787.2" cy="541.5" rx="2.7" ry="1.41" fill="#5fdc95"/>
<ellipse cx="787.2" cy="543.9" rx="2.7" ry="1.40" fill="#48e38e"/>
<ellipse cx="787.2" cy="546.2" rx="2.7" ry="1.39" fill="#32ea87"/>
<ellipse cx="787.2" cy="548.5" rx="2.7" ry="1.38" fill="#20f082"/>
<ellipse cx="787.2" cy="550.8" rx="2.7" ry="1.37" fill="#20f082"/>
<ellipse cx="787.2" cy="553.1" rx="2.7" ry="1.36" fill="#20f082"/>
<ellipse cx="787.2" cy="555.4" rx="2.7" ry="1.35" fill="#20f082"/>
<ellipse cx="787.2" cy="557.6" rx="2.7" ry="1.34" fill="#20f082"/>
<ellipse cx="787.2" cy="559.9" rx="2.7" ry="1.33" fill="#20f082"/>
<ellipse cx="787.2" cy="562.1" rx="2.7" ry="1.32" fill="#20f082"/>
<ellipse cx="831.1" cy="323.0" rx="2.7" ry="2.30" fill="#20f082"/>
<ellipse cx="831.1" cy="336.4" rx="2.7" ry="2.30" fill="#26ee84"/>
<ellipse cx="831.1" cy="349.6" rx="2.7" ry="2.30" fill="#2bec85"/>
<ellipse cx="831.1" cy="363.0" rx="2.7" ry="2.30" fill="#31ea87"/>
<ellipse cx="831.1" cy="375.6" rx="2.7" ry="2.30" fill="#4ee18f"/>
<ellipse cx="831.1" cy="387.6" rx="2.7" ry="2.30" fill="#72d09b"/>
<ellipse cx="831.1" cy="398.6" rx="2.7" ry="2.30" fill="#8dbfa5"/>
<ellipse cx="831.1" cy="409.0" rx="2.7" ry="2.30" fill="#9ab7aa"/>
<ellipse cx="831.1" cy="419.0" rx="2.7" ry="2.30" fill="#aca3ae"/>
<ellipse cx="831.1" cy="428.0" rx="2.7" ry="2.30" fill="#be8eb1"/>
<ellipse cx="831.1" cy="435.6" rx="2.7" ry="2.21" fill="#cb7bb2"/>
<ellipse cx="831.1" cy="442.0" rx="2.7" ry="1.93" fill="#d66bb2"/>
<ellipse cx="831.1" cy="447.6" rx="2.7" ry="1.66" fill="#e550b2"/>
<ellipse cx="831.1" cy="452.4" rx="2.7" ry="1.66" fill="#f138b2"/>
<ellipse cx="831.1" cy="455.0" rx="2.7" ry="1.20" fill="#f237b2"/>
<ellipse cx="831.1" cy="457.0" rx="2.7" ry="1.20" fill="#f138b2"/>
<ellipse cx="831.1" cy="459.0" rx="2.7" ry="1.20" fill="#f13ab2"/>
<ellipse cx="831.1" cy="461.0" rx="2.7" ry="1.20" fill="#f03cb2"/>
<ellipse cx="831.1" cy="463.0" rx="2.7" ry="1.20" fill="#f03db2"/>
<ellipse cx="831.1" cy="465.0" rx="2.7" ry="1.20" fill="#ef3fb2"/>
<ellipse cx="831.1" cy="467.0" rx="2.7" ry="1.20" fill="#ee40b2"/>
<ellipse cx="831.1" cy="469.0" rx="2.7" ry="1.20" fill="#ee42b2"/>
<ellipse cx="831.1" cy="471.0" rx="2.7" ry="1.20" fill="#ee41b2"/>
<ellipse cx="831.1" cy="473.0" rx="2.7" ry="1.20" fill="#ef3fb2"/>
<ellipse cx="831.1" cy="475.0" rx="2.7" ry="1.20" fill="#f03cb2"/>
<ellipse cx="831.1" cy="477.0" rx="2.7" ry="1.20" fill="#f139b2"/>
<ellipse cx="831.1" cy="479.0" rx="2.7" ry="1.20" fill="#f237b2"/>
<ellipse cx="831.1" cy="481.0" rx="2.7" ry="1.20" fill="#f334b2"/>
<ellipse cx="831.1" cy="483.0" rx="2.7" ry="1.20" fill="#f431b2"/>
<ellipse cx="831.1" cy="485.0" rx="2.7" ry="1.20" fill="#f52fb2"/>
<ellipse cx="831.1" cy="487.0" rx="2.7" ry="1.20" fill="#f62cb2"/>
<ellipse cx="831.1" cy="489.0" rx="2.7" ry="1.20" fill="#f729b2"/>
<ellipse cx="831.1" cy="491.0" rx="2.7" ry="1.76" fill="#f72bb2"/>
<ellipse cx="831.1" cy="494.2" rx="2.7" ry="1.55" fill="#f333b2"/>
<ellipse cx="831.1" cy="498.8" rx="2.7" ry="1.55" fill="#ef3fb2"/>
<ellipse cx="831.1" cy="503.2" rx="2.7" ry="1.55" fill="#ea4bb2"/>
<ellipse cx="831.1" cy="507.8" rx="2.7" ry="1.55" fill="#d866b1"/>
<ellipse cx="831.1" cy="512.2" rx="2.7" ry="1.56" fill="#be8baf"/>
<ellipse cx="831.1" cy="516.7" rx="2.7" ry="1.57" fill="#a7a7ac"/>
<ellipse cx="831.1" cy="521.1" rx="2.7" ry="1.59" fill="#95b6a7"/>
<ellipse cx="831.1" cy="525.3" rx="2.7" ry="1.61" fill="#83c5a1"/>
<ellipse cx="831.1" cy="529.5" rx="2.7" ry="1.62" fill="#6fd19a"/>
<ellipse cx="831.1" cy="533.5" rx="2.7" ry="1.64" fill="#5adc93"/>
<ellipse cx="831.1" cy="537.5" rx="2.7" ry="1.65" fill="#46e48d"/>
<ellipse cx="831.1" cy="541.4" rx="2.7" ry="1.67" fill="#32ea87"/>
<ellipse cx="831.1" cy="545.2" rx="2.7" ry="1.68" fill="#20f082"/>
<ellipse cx="831.1" cy="548.9" rx="2.7" ry="1.69" fill="#20f082"/>
<ellipse cx="831.1" cy="552.6" rx="2.7" ry="1.71" fill="#20f082"/>
<ellipse cx="875.0" cy="378.0" rx="2.7" ry="2.30" fill="#20f082"/>
<ellipse cx="875.0" cy="386.0" rx="2.7" ry="2.30" fill="#24ef83"/>
<ellipse cx="875.0" cy="396.4" rx="2.7" ry="2.30" fill="#29ed85"/>
<ellipse cx="875.0" cy="405.0" rx="2.7" ry="2.30" fill="#2dec86"/>
<ellipse cx="875.0" cy="413.0" rx="2.7" ry="2.30" fill="#31ea87"/>
<ellipse cx="875.0" cy="420.0" rx="2.7" ry="2.21" fill="#4ce28f"/>
<ellipse cx="875.0" cy="426.4" rx="2.7" ry="1.93" fill="#65d996"/>
<ellipse cx="875.0" cy="432.0" rx="2.7" ry="1.72" fill="#76ce9d"/>
<ellipse cx="875.0" cy="437.0" rx="2.7" ry="1.72" fill="#85c4a2"/>
<ellipse cx="875.0" cy="442.0" rx="2.7" ry="1.72" fill="#90bda6"/>
<ellipse cx="875.0" cy="447.0" rx="2.7" ry="1.72" fill="#9bb6aa"/>
<ellipse cx="875.0" cy="450.5" rx="2.7" ry="1.20" fill="#f2c1e3"/>
<ellipse cx="875.0" cy="452.5" rx="2.7" ry="1.23" fill="#ffdaf2"/>
<ellipse cx="875.0" cy="454.6" rx="2.7" ry="1.26" fill="#fff8fd"/>
<ellipse cx="875.0" cy="456.7" rx="2.7" ry="1.29" fill="#ffcbee"/>
<ellipse cx="875.0" cy="458.8" rx="2.7" ry="1.33" fill="#ff88d9"/>
<ellipse cx="875.0" cy="461.0" rx="2.7" ry="1.36" fill="#fc5ec8"/>
<ellipse cx="875.0" cy="463.3" rx="2.7" ry="1.40" fill="#f935b7"/>
<ellipse cx="875.0" cy="465.6" rx="2.7" ry="1.43" fill="#f828b2"/>
<ellipse cx="875.0" cy="468.0" rx="2.7" ry="1.47" fill="#f828b2"/>
<ellipse cx="875.0" cy="470.5" rx="2.7" ry="1.59" fill="#f828b2"/>
<ellipse cx="875.0" cy="473.1" rx="2.7" ry="1.71" fill="#f828b2"/>
<ellipse cx="875.0" cy="476.7" rx="2.7" ry="1.60" fill="#f828b2"/>
<ellipse cx="875.0" cy="480.9" rx="2.7" ry="1.59" fill="#f828b2"/>
<ellipse cx="875.0" cy="485.1" rx="2.7" ry="1.59" fill="#f828b2"/>
<ellipse cx="875.0" cy="489.4" rx="2.7" ry="1.58" fill="#f828b2"/>
<ellipse cx="875.0" cy="493.7" rx="2.7" ry="1.58" fill="#f828b2"/>
<ellipse cx="875.0" cy="498.0" rx="2.7" ry="1.57" fill="#f039b2"/>
<ellipse cx="875.0" cy="502.4" rx="2.7" ry="1.57" fill="#e551b2"/>
<ellipse cx="875.0" cy="506.8" rx="2.7" ry="1.56" fill="#d769b2"/>
<ellipse cx="875.0" cy="511.2" rx="2.7" ry="1.56" fill="#c681b1"/>
<ellipse cx="875.0" cy="515.6" rx="2.7" ry="1.55" fill="#b598b0"/>
<ellipse cx="875.0" cy="520.1" rx="2.7" ry="1.55" fill="#a9a6ad"/>
<ellipse cx="875.0" cy="524.6" rx="2.7" ry="1.56" fill="#9cb5aa"/>
<ellipse cx="875.0" cy="529.0" rx="2.7" ry="1.56" fill="#89c2a4"/>
<ellipse cx="875.0" cy="533.5" rx="2.7" ry="1.57" fill="#76ce9c"/>
<ellipse cx="875.0" cy="537.9" rx="2.7" ry="1.57" fill="#5dda95"/>
<ellipse cx="875.0" cy="542.2" rx="2.7" ry="1.58" fill="#42e48c"/>
<ellipse cx="875.0" cy="546.6" rx="2.7" ry="1.58" fill="#2feb87"/>
<ellipse cx="875.0" cy="550.9" rx="2.7" ry="1.59" fill="#2bed85"/>
<ellipse cx="875.0" cy="555.2" rx="2.7" ry="1.59" fill="#26ee84"/>
<ellipse cx="875.0" cy="559.4" rx="2.7" ry="1.60" fill="#22ef82"/>
<ellipse cx="918.9" cy="417.0" rx="2.7" ry="1.20" fill="#ffffff"/>
<ellipse cx="918.9" cy="419.0" rx="2.7" ry="1.20" fill="#ffffff"/>
<ellipse cx="918.9" cy="421.0" rx="2.7" ry="1.20" fill="#ffffff"/>
<ellipse cx="918.9" cy="423.0" rx="2.7" ry="1.20" fill="#ffffff"/>
<ellipse cx="918.9" cy="425.0" rx="2.7" ry="1.20" fill="#ffffff"/>
<ellipse cx="918.9" cy="427.0" rx="2.7" ry="1.20" fill="#ffffff"/>
<ellipse cx="918.9" cy="429.0" rx="2.7" ry="1.20" fill="#ffffff"/>
<ellipse cx="918.9" cy="431.0" rx="2.7" ry="1.20" fill="#ffffff"/>
<ellipse cx="918.9" cy="433.0" rx="2.7" ry="1.20" fill="#ffffff"/>
<ellipse cx="918.9" cy="435.0" rx="2.7" ry="1.20" fill="#fc94d8"/>
<ellipse cx="918.9" cy="437.0" rx="2.7" ry="1.20" fill="#f828b2"/>
<ellipse cx="918.9" cy="439.0" rx="2.7" ry="1.20" fill="#f828b2"/>
<ellipse cx="918.9" cy="441.0" rx="2.7" ry="1.20" fill="#f828b2"/>
<ellipse cx="918.9" cy="443.0" rx="2.7" ry="1.20" fill="#f828b2"/>
<ellipse cx="918.9" cy="445.0" rx="2.7" ry="1.20" fill="#f828b2"/>
<ellipse cx="918.9" cy="447.0" rx="2.7" ry="1.79" fill="#f828b2"/>
<ellipse cx="918.9" cy="452.2" rx="2.7" ry="1.80" fill="#f828b2"/>
<ellipse cx="918.9" cy="457.4" rx="2.7" ry="1.81" fill="#f828b2"/>
<ellipse cx="918.9" cy="462.7" rx="2.7" ry="1.82" fill="#f828b2"/>
<ellipse cx="918.9" cy="468.0" rx="2.7" ry="1.83" fill="#f828b2"/>
<ellipse cx="918.9" cy="473.3" rx="2.7" ry="1.85" fill="#f828b2"/>
<ellipse cx="918.9" cy="478.6" rx="2.7" ry="1.86" fill="#f828b2"/>
<ellipse cx="918.9" cy="484.0" rx="2.7" ry="1.87" fill="#ef3ab2"/>
<ellipse cx="918.9" cy="489.4" rx="2.7" ry="1.88" fill="#e453b2"/>
<ellipse cx="918.9" cy="494.9" rx="2.7" ry="1.89" fill="#d66bb2"/>
<ellipse cx="918.9" cy="500.3" rx="2.7" ry="1.90" fill="#c781b2"/>
<ellipse cx="918.9" cy="505.8" rx="2.7" ry="1.90" fill="#b796b0"/>
<ellipse cx="918.9" cy="511.3" rx="2.7" ry="1.90" fill="#a6a9ac"/>
<ellipse cx="918.9" cy="516.8" rx="2.7" ry="1.87" fill="#95baa8"/>
<ellipse cx="918.9" cy="522.3" rx="2.7" ry="1.80" fill="#83c6a1"/>
<ellipse cx="918.9" cy="527.5" rx="2.7" ry="1.73" fill="#70d19b"/>
<ellipse cx="918.9" cy="532.5" rx="2.7" ry="1.66" fill="#5dda94"/>
<ellipse cx="918.9" cy="537.3" rx="2.7" ry="1.60" fill="#4be28f"/>
<ellipse cx="918.9" cy="541.9" rx="2.7" ry="1.55" fill="#3be78a"/>
<ellipse cx="918.9" cy="546.4" rx="2.7" ry="1.57" fill="#2feb87"/>
<ellipse cx="918.9" cy="550.8" rx="2.7" ry="1.59" fill="#2aed85"/>
<ellipse cx="918.9" cy="555.1" rx="2.7" ry="1.61" fill="#26ee84"/>
<ellipse cx="918.9" cy="559.2" rx="2.7" ry="1.63" fill="#21f082"/>
<ellipse cx="962.8" cy="372.0" rx="2.7" ry="1.20" fill="#ffffff"/>
<ellipse cx="962.8" cy="374.0" rx="2.7" ry="1.20" fill="#ffffff"/>
<ellipse cx="962.8" cy="376.0" rx="2.7" ry="1.20" fill="#ffffff"/>
<ellipse cx="962.8" cy="378.0" rx="2.7" ry="1.20" fill="#ffffff"/>
<ellipse cx="962.8" cy="380.0" rx="2.7" ry="1.20" fill="#ffffff"/>
<ellipse cx="962.8" cy="382.0" rx="2.7" ry="1.20" fill="#ffffff"/>
<ellipse cx="962.8" cy="384.0" rx="2.7" ry="1.20" fill="#ffffff"/>
<ellipse cx="962.8" cy="386.0" rx="2.7" ry="1.20" fill="#ffffff"/>
<ellipse cx="962.8" cy="388.0" rx="2.7" ry="1.20" fill="#ffffff"/>
<ellipse cx="962.8" cy="390.0" rx="2.7" ry="1.20" fill="#ffffff"/>
<ellipse cx="962.8" cy="392.0" rx="2.7" ry="1.20" fill="#ffffff"/>
<ellipse cx="962.8" cy="394.0" rx="2.7" ry="1.20" fill="#ffffff"/>
<ellipse cx="962.8" cy="396.0" rx="2.7" ry="1.20" fill="#e9fff8"/>
<ellipse cx="962.8" cy="398.0" rx="2.7" ry="1.20" fill="#d4fff2"/>
<ellipse cx="962.8" cy="400.0" rx="2.7" ry="1.20" fill="#beffeb"/>
<ellipse cx="962.8" cy="402.0" rx="2.7" ry="1.20" fill="#78f5b9"/>
<ellipse cx="962.8" cy="404.0" rx="2.7" ry="1.20" fill="#31ea87"/>
<ellipse cx="962.8" cy="407.6" rx="2.7" ry="1.86" fill="#f828b2"/>
<ellipse cx="962.8" cy="413.0" rx="2.7" ry="1.72" fill="#f828b2"/>
<ellipse cx="962.8" cy="418.0" rx="2.7" ry="1.72" fill="#f828b2"/>
<ellipse cx="962.8" cy="423.6" rx="2.7" ry="1.86" fill="#f828b2"/>
<ellipse cx="962.8" cy="429.0" rx="2.7" ry="1.86" fill="#f828b2"/>
<ellipse cx="962.8" cy="434.6" rx="2.7" ry="1.93" fill="#f828b2"/>
<ellipse cx="962.8" cy="440.4" rx="2.7" ry="1.93" fill="#f828b2"/>
<ellipse cx="962.8" cy="446.0" rx="2.7" ry="1.93" fill="#f828b2"/>
<ellipse cx="962.8" cy="452.0" rx="2.7" ry="2.07" fill="#f828b2"/>
<ellipse cx="962.8" cy="458.0" rx="2.7" ry="1.93" fill="#f333b2"/>
<ellipse cx="962.8" cy="463.6" rx="2.7" ry="1.93" fill="#e948b2"/>
<ellipse cx="962.8" cy="469.6" rx="2.7" ry="2.07" fill="#df5eb2"/>
<ellipse cx="962.8" cy="475.6" rx="2.7" ry="2.07" fill="#cc79b1"/>
<ellipse cx="962.8" cy="482.0" rx="2.7" ry="2.21" fill="#b796b0"/>
<ellipse cx="962.8" cy="488.4" rx="2.7" ry="2.10" fill="#a9a6ad"/>
<ellipse cx="962.8" cy="494.5" rx="2.7" ry="2.10" fill="#9cb5aa"/>
<ellipse cx="962.8" cy="501.3" rx="2.7" ry="2.10" fill="#8bc0a4"/>
<ellipse cx="962.8" cy="507.4" rx="2.7" ry="2.10" fill="#7ccb9f"/>
<ellipse cx="962.8" cy="513.6" rx="2.7" ry="2.04" fill="#70d29a"/>
<ellipse cx="962.8" cy="519.5" rx="2.7" ry="2.04" fill="#65d996"/>
<ellipse cx="962.8" cy="525.7" rx="2.7" ry="1.97" fill="#47e38d"/>
<ellipse cx="962.8" cy="531.4" rx="2.7" ry="1.97" fill="#30eb87"/>
<ellipse cx="962.8" cy="537.1" rx="2.7" ry="1.83" fill="#2dec86"/>
<ellipse cx="962.8" cy="542.4" rx="2.7" ry="1.83" fill="#29ed85"/>
<ellipse cx="962.8" cy="547.9" rx="2.7" ry="1.79" fill="#26ee84"/>
<ellipse cx="962.8" cy="553.1" rx="2.7" ry="1.79" fill="#23ef83"/>
<ellipse cx="962.8" cy="558.4" rx="2.7" ry="1.83" fill="#20f082"/>
<ellipse cx="1006.7" cy="296.0" rx="2.7" ry="1.20" fill="#20f082"/>
<ellipse cx="1006.7" cy="298.0" rx="2.7" ry="1.26" fill="#24ef83"/>
<ellipse cx="1006.7" cy="300.1" rx="2.7" ry="1.32" fill="#29ed85"/>
<ellipse cx="1006.7" cy="302.3" rx="2.7" ry="1.39" fill="#2dec86"/>
<ellipse cx="1006.7" cy="304.6" rx="2.7" ry="1.46" fill="#34ea88"/>
<ellipse cx="1006.7" cy="311.0" rx="2.7" ry="1.72" fill="#53e091"/>
<ellipse cx="1006.7" cy="316.0" rx="2.7" ry="1.72" fill="#61d896"/>
<ellipse cx="1006.7" cy="321.0" rx="2.7" ry="1.72" fill="#6fd19a"/>
<ellipse cx="1006.7" cy="326.6" rx="2.7" ry="1.86" fill="#7ec99f"/>
<ellipse cx="1006.7" cy="332.0" rx="2.7" ry="1.86" fill="#8cc0a4"/>
<ellipse cx="1006.7" cy="338.0" rx="2.7" ry="2.07" fill="#9bb6aa"/>
<ellipse cx="1006.7" cy="344.4" rx="2.7" ry="2.21" fill="#a5aaac"/>
<ellipse cx="1006.7" cy="351.0" rx="2.7" ry="2.28" fill="#b09eaf"/>
<ellipse cx="1006.7" cy="358.0" rx="2.7" ry="2.30" fill="#bd8eb0"/>
<ellipse cx="1006.7" cy="365.0" rx="2.7" ry="2.30" fill="#ca7cb1"/>
<ellipse cx="1006.7" cy="372.0" rx="2.7" ry="2.30" fill="#d56db2"/>
<ellipse cx="1006.7" cy="379.0" rx="2.7" ry="2.30" fill="#d868b2"/>
<ellipse cx="1006.7" cy="386.0" rx="2.7" ry="2.30" fill="#db63b2"/>
<ellipse cx="1006.7" cy="393.0" rx="2.7" ry="2.28" fill="#df5eb2"/>
<ellipse cx="1006.7" cy="399.6" rx="2.7" ry="2.28" fill="#e259b2"/>
<ellipse cx="1006.7" cy="406.4" rx="2.7" ry="2.28" fill="#e259b2"/>
<ellipse cx="1006.7" cy="413.0" rx="2.7" ry="2.28" fill="#e259b2"/>
<ellipse cx="1006.7" cy="420.0" rx="2.7" ry="2.21" fill="#e259b2"/>
<ellipse cx="1006.7" cy="426.4" rx="2.7" ry="2.21" fill="#e259b2"/>
<ellipse cx="1006.7" cy="432.1" rx="2.7" ry="1.97" fill="#e259b2"/>
<ellipse cx="1006.7" cy="437.8" rx="2.7" ry="1.97" fill="#e259b2"/>
<ellipse cx="1006.7" cy="443.5" rx="2.7" ry="1.97" fill="#e259b2"/>
<ellipse cx="1006.7" cy="449.2" rx="2.7" ry="1.97" fill="#e259b2"/>
<ellipse cx="1006.7" cy="454.9" rx="2.7" ry="1.97" fill="#db63b2"/>
<ellipse cx="1006.7" cy="460.6" rx="2.7" ry="1.97" fill="#d36fb2"/>
<ellipse cx="1006.7" cy="466.3" rx="2.7" ry="1.97" fill="#cb7bb2"/>
<ellipse cx="1006.7" cy="472.0" rx="2.7" ry="1.97" fill="#c387b1"/>
<ellipse cx="1006.7" cy="477.7" rx="2.7" ry="1.97" fill="#b993b0"/>
<ellipse cx="1006.7" cy="483.4" rx="2.7" ry="1.97" fill="#af9eae"/>
<ellipse cx="1006.7" cy="489.1" rx="2.7" ry="1.97" fill="#a6aaac"/>
<ellipse cx="1006.7" cy="494.8" rx="2.7" ry="1.97" fill="#97b6a8"/>
<ellipse cx="1006.7" cy="500.5" rx="2.7" ry="1.97" fill="#87c2a2"/>
<ellipse cx="1006.7" cy="506.2" rx="2.7" ry="1.97" fill="#76ce9d"/>
<ellipse cx="1006.7" cy="511.9" rx="2.7" ry="1.97" fill="#60d796"/>
<ellipse cx="1006.7" cy="517.6" rx="2.7" ry="1.97" fill="#4be18f"/>
<ellipse cx="1006.7" cy="523.3" rx="2.7" ry="1.97" fill="#37e989"/>
<ellipse cx="1006.7" cy="529.0" rx="2.7" ry="1.97" fill="#23ef83"/>
<ellipse cx="1006.7" cy="534.7" rx="2.7" ry="1.97" fill="#20f082"/>
<ellipse cx="1006.7" cy="540.4" rx="2.7" ry="1.97" fill="#20f082"/>
<ellipse cx="1006.7" cy="546.1" rx="2.7" ry="1.97" fill="#20f082"/>
<ellipse cx="1006.7" cy="551.8" rx="2.7" ry="1.97" fill="#20f082"/>
<ellipse cx="1006.7" cy="557.5" rx="2.7" ry="1.97" fill="#20f082"/>
<ellipse cx="1050.6" cy="313.0" rx="2.7" ry="1.20" fill="#20f082"/>
<ellipse cx="1050.6" cy="315.0" rx="2.7" ry="1.24" fill="#21f082"/>
<ellipse cx="1050.6" cy="317.1" rx="2.7" ry="1.29" fill="#22ef83"/>
<ellipse cx="1050.6" cy="319.2" rx="2.7" ry="1.33" fill="#23ef83"/>
<ellipse cx="1050.6" cy="321.4" rx="2.7" ry="1.38" fill="#24ef83"/>
<ellipse cx="1050.6" cy="323.7" rx="2.7" ry="1.43" fill="#26ee84"/>
<ellipse cx="1050.6" cy="326.1" rx="2.7" ry="1.48" fill="#27ee84"/>
<ellipse cx="1050.6" cy="330.0" rx="2.7" ry="1.93" fill="#29ed85"/>
<ellipse cx="1050.6" cy="335.6" rx="2.7" ry="1.86" fill="#2cec86"/>
<ellipse cx="1050.6" cy="341.0" rx="2.7" ry="1.86" fill="#2feb86"/>
<ellipse cx="1050.6" cy="346.4" rx="2.7" ry="1.86" fill="#38e889"/>
<ellipse cx="1050.6" cy="352.4" rx="2.7" ry="2.07" fill="#57de92"/>
<ellipse cx="1050.6" cy="359.0" rx="2.7" ry="2.21" fill="#6dd499"/>
<ellipse cx="1050.6" cy="365.4" rx="2.7" ry="2.21" fill="#7bcb9e"/>
<ellipse cx="1050.6" cy="372.0" rx="2.7" ry="2.28" fill="#8ac1a4"/>
<ellipse cx="1050.6" cy="379.0" rx="2.7" ry="2.30" fill="#9bb6aa"/>
<ellipse cx="1050.6" cy="386.4" rx="2.7" ry="2.30" fill="#a5abac"/>
<ellipse cx="1050.6" cy="393.4" rx="2.7" ry="2.30" fill="#aea1ae"/>
<ellipse cx="1050.6" cy="400.4" rx="2.7" ry="2.30" fill="#b598b0"/>
<ellipse cx="1050.6" cy="407.4" rx="2.7" ry="2.30" fill="#be8eb1"/>
<ellipse cx="1050.6" cy="414.4" rx="2.7" ry="2.28" fill="#c781b2"/>
<ellipse cx="1050.6" cy="421.0" rx="2.7" ry="2.28" fill="#ce77b2"/>
<ellipse cx="1050.6" cy="427.6" rx="2.7" ry="2.21" fill="#cf76b2"/>
<ellipse cx="1050.6" cy="434.0" rx="2.7" ry="2.17" fill="#cf75b2"/>
<ellipse cx="1050.6" cy="440.3" rx="2.7" ry="2.14" fill="#d074b2"/>
<ellipse cx="1050.6" cy="446.5" rx="2.7" ry="1.97" fill="#d173b2"/>
<ellipse cx="1050.6" cy="452.2" rx="2.7" ry="1.79" fill="#d172b2"/>
<ellipse cx="1050.6" cy="457.4" rx="2.7" ry="1.79" fill="#d271b2"/>
<ellipse cx="1050.6" cy="462.7" rx="2.7" ry="1.59" fill="#ce77b2"/>
<ellipse cx="1050.6" cy="467.3" rx="2.7" ry="1.55" fill="#c781b1"/>
<ellipse cx="1050.6" cy="471.8" rx="2.7" ry="1.55" fill="#bf8bb1"/>
<ellipse cx="1050.6" cy="476.4" rx="2.7" ry="1.58" fill="#b895b0"/>
<ellipse cx="1050.6" cy="480.7" rx="2.7" ry="1.58" fill="#b29caf"/>
<ellipse cx="1050.6" cy="485.3" rx="2.7" ry="1.59" fill="#aba4ae"/>
<ellipse cx="1050.6" cy="489.9" rx="2.7" ry="1.59" fill="#a4abac"/>
<ellipse cx="1050.6" cy="494.5" rx="2.7" ry="1.59" fill="#9bb3a9"/>
<ellipse cx="1050.6" cy="499.3" rx="2.7" ry="1.66" fill="#91bca6"/>
<ellipse cx="1050.6" cy="504.3" rx="2.7" ry="1.72" fill="#84c5a2"/>
<ellipse cx="1050.6" cy="509.3" rx="2.7" ry="1.66" fill="#76ce9d"/>
<ellipse cx="1050.6" cy="514.1" rx="2.7" ry="1.66" fill="#66d797"/>
<ellipse cx="1050.6" cy="519.1" rx="2.7" ry="1.59" fill="#4fe090"/>
<ellipse cx="1050.6" cy="523.7" rx="2.7" ry="1.59" fill="#3ce78a"/>
<ellipse cx="1050.6" cy="528.7" rx="2.7" ry="1.59" fill="#2bec85"/>
<ellipse cx="1050.6" cy="533.3" rx="2.7" ry="1.59" fill="#20f082"/>
<ellipse cx="1050.6" cy="537.9" rx="2.7" ry="1.59" fill="#20f082"/>
<ellipse cx="1050.6" cy="542.5" rx="2.7" ry="1.59" fill="#20f082"/>
<ellipse cx="1050.6" cy="547.1" rx="2.7" ry="1.61" fill="#20f082"/>
<ellipse cx="1050.6" cy="551.8" rx="2.7" ry="1.62" fill="#20f082"/>
<ellipse cx="1050.6" cy="556.5" rx="2.7" ry="1.64" fill="#20f082"/>
<ellipse cx="1094.5" cy="363.0" rx="2.7" ry="1.20" fill="#20f082"/>
<ellipse cx="1094.5" cy="365.0" rx="2.7" ry="1.22" fill="#21f082"/>
<ellipse cx="1094.5" cy="367.0" rx="2.7" ry="1.24" fill="#22ef83"/>
<ellipse cx="1094.5" cy="369.1" rx="2.7" ry="1.27" fill="#23ef83"/>
<ellipse cx="1094.5" cy="371.2" rx="2.7" ry="1.29" fill="#24ef83"/>
<ellipse cx="1094.5" cy="373.4" rx="2.7" ry="1.32" fill="#26ee84"/>
<ellipse cx="1094.5" cy="375.6" rx="2.7" ry="1.34" fill="#27ee84"/>
<ellipse cx="1094.5" cy="377.8" rx="2.7" ry="1.36" fill="#28ed84"/>
<ellipse cx="1094.5" cy="380.1" rx="2.7" ry="1.39" fill="#29ed85"/>
<ellipse cx="1094.5" cy="382.4" rx="2.7" ry="1.42" fill="#2aed85"/>
<ellipse cx="1094.5" cy="384.8" rx="2.7" ry="1.44" fill="#2cec85"/>
<ellipse cx="1094.5" cy="387.2" rx="2.7" ry="1.47" fill="#2dec86"/>
<ellipse cx="1094.5" cy="389.6" rx="2.7" ry="1.50" fill="#2eeb86"/>
<ellipse cx="1094.5" cy="392.1" rx="2.7" ry="1.76" fill="#2feb87"/>
<ellipse cx="1094.5" cy="397.2" rx="2.7" ry="1.75" fill="#3ce78a"/>
<ellipse cx="1094.5" cy="402.3" rx="2.7" ry="1.74" fill="#56df92"/>
<ellipse cx="1094.5" cy="407.3" rx="2.7" ry="1.74" fill="#69d798"/>
<ellipse cx="1094.5" cy="412.4" rx="2.7" ry="1.73" fill="#74cf9c"/>
<ellipse cx="1094.5" cy="417.4" rx="2.7" ry="1.72" fill="#7fc8a0"/>
<ellipse cx="1094.5" cy="422.4" rx="2.7" ry="1.71" fill="#89c2a4"/>
<ellipse cx="1094.5" cy="427.3" rx="2.7" ry="1.71" fill="#92bca7"/>
<ellipse cx="1094.5" cy="432.3" rx="2.7" ry="1.70" fill="#9cb5aa"/>
<ellipse cx="1094.5" cy="437.2" rx="2.7" ry="1.69" fill="#a6a9ac"/>
<ellipse cx="1094.5" cy="442.1" rx="2.7" ry="1.69" fill="#b19daf"/>
<ellipse cx="1094.5" cy="447.0" rx="2.7" ry="1.68" fill="#b796b0"/>
<ellipse cx="1094.5" cy="451.9" rx="2.7" ry="1.67" fill="#b994b1"/>
<ellipse cx="1094.5" cy="456.7" rx="2.7" ry="1.66" fill="#bb92b1"/>
<ellipse cx="1094.5" cy="461.5" rx="2.7" ry="1.66" fill="#bd90b1"/>
<ellipse cx="1094.5" cy="466.3" rx="2.7" ry="1.78" fill="#bf8eb2"/>
<ellipse cx="1094.5" cy="469.5" rx="2.7" ry="1.50" fill="#c08cb2"/>
<ellipse cx="1094.5" cy="472.0" rx="2.7" ry="1.50" fill="#bf8db2"/>
<ellipse cx="1094.5" cy="474.5" rx="2.7" ry="1.50" fill="#be8eb2"/>
<ellipse cx="1094.5" cy="477.0" rx="2.7" ry="1.50" fill="#bd90b1"/>
<ellipse cx="1094.5" cy="479.5" rx="2.7" ry="1.50" fill="#bc91b1"/>
<ellipse cx="1094.5" cy="482.0" rx="2.7" ry="1.50" fill="#ba92b1"/>
<ellipse cx="1094.5" cy="484.5" rx="2.7" ry="1.50" fill="#b994b1"/>
<ellipse cx="1094.5" cy="487.0" rx="2.7" ry="1.50" fill="#b895b0"/>
<ellipse cx="1094.5" cy="489.5" rx="2.7" ry="1.50" fill="#b796b0"/>
<ellipse cx="1094.5" cy="492.0" rx="2.7" ry="1.50" fill="#b89db3"/>
<ellipse cx="1094.5" cy="494.5" rx="2.7" ry="1.50" fill="#b9a5b6"/>
<ellipse cx="1094.5" cy="497.0" rx="2.7" ry="1.50" fill="#baaeb9"/>
<ellipse cx="1094.5" cy="499.5" rx="2.7" ry="1.50" fill="#bbb6bd"/>
<ellipse cx="1094.5" cy="502.0" rx="2.7" ry="1.50" fill="#bdbec0"/>
<ellipse cx="1094.5" cy="504.5" rx="2.7" ry="1.50" fill="#bec6c3"/>
<ellipse cx="1094.5" cy="507.0" rx="2.7" ry="1.50" fill="#acccbb"/>
<ellipse cx="1094.5" cy="509.5" rx="2.7" ry="1.50" fill="#96d0af"/>
<ellipse cx="1094.5" cy="512.0" rx="2.7" ry="1.50" fill="#7fd5a4"/>
<ellipse cx="1094.5" cy="514.5" rx="2.7" ry="1.50" fill="#69d998"/>
<ellipse cx="1094.5" cy="517.0" rx="2.7" ry="1.50" fill="#5add93"/>
<ellipse cx="1094.5" cy="519.5" rx="2.7" ry="1.50" fill="#4de18f"/>
<ellipse cx="1094.5" cy="522.0" rx="2.7" ry="1.50" fill="#40e68c"/>
<ellipse cx="1094.5" cy="524.5" rx="2.7" ry="1.50" fill="#34ea88"/>
<ellipse cx="1094.5" cy="527.0" rx="2.7" ry="1.50" fill="#2eec86"/>
<ellipse cx="1094.5" cy="529.5" rx="2.7" ry="1.50" fill="#29ed85"/>
<ellipse cx="1094.5" cy="532.0" rx="2.7" ry="1.50" fill="#25ee84"/>
<ellipse cx="1094.5" cy="534.5" rx="2.7" ry="1.50" fill="#21f082"/>
<ellipse cx="1094.5" cy="537.0" rx="2.7" ry="1.50" fill="#20f082"/>
<ellipse cx="1094.5" cy="539.5" rx="2.7" ry="1.50" fill="#20f082"/>
<ellipse cx="1094.5" cy="542.0" rx="2.7" ry="1.50" fill="#20f082"/>
<ellipse cx="1094.5" cy="544.5" rx="2.7" ry="1.50" fill="#20f082"/>
<ellipse cx="1094.5" cy="547.0" rx="2.7" ry="1.66" fill="#20f082"/>
<ellipse cx="1094.5" cy="550.8" rx="2.7" ry="1.55" fill="#20f082"/>
<ellipse cx="1094.5" cy="555.3" rx="2.7" ry="1.55" fill="#20f082"/>
<ellipse cx="1138.4" cy="367.0" rx="2.7" ry="1.20" fill="#20f082"/>
<ellipse cx="1138.4" cy="369.0" rx="2.7" ry="1.22" fill="#20f082"/>
<ellipse cx="1138.4" cy="371.0" rx="2.7" ry="1.24" fill="#21f082"/>
<ellipse cx="1138.4" cy="373.1" rx="2.7" ry="1.27" fill="#21f082"/>
<ellipse cx="1138.4" cy="375.2" rx="2.7" ry="1.29" fill="#22ef83"/>
<ellipse cx="1138.4" cy="377.4" rx="2.7" ry="1.31" fill="#22ef83"/>
<ellipse cx="1138.4" cy="379.5" rx="2.7" ry="1.33" fill="#23ef83"/>
<ellipse cx="1138.4" cy="381.8" rx="2.7" ry="1.36" fill="#23ef83"/>
<ellipse cx="1138.4" cy="384.0" rx="2.7" ry="1.38" fill="#24ef83"/>
<ellipse cx="1138.4" cy="386.3" rx="2.7" ry="1.41" fill="#25ef83"/>
<ellipse cx="1138.4" cy="388.7" rx="2.7" ry="1.43" fill="#25ee83"/>
<ellipse cx="1138.4" cy="391.1" rx="2.7" ry="1.46" fill="#26ee84"/>
<ellipse cx="1138.4" cy="393.5" rx="2.7" ry="1.48" fill="#26ee84"/>
<ellipse cx="1138.4" cy="396.0" rx="2.7" ry="1.69" fill="#27ee84"/>
<ellipse cx="1138.4" cy="399.6" rx="2.7" ry="1.69" fill="#28ee84"/>
<ellipse cx="1138.4" cy="404.5" rx="2.7" ry="1.69" fill="#29ed85"/>
<ellipse cx="1138.4" cy="409.4" rx="2.7" ry="1.69" fill="#2aed85"/>
<ellipse cx="1138.4" cy="414.3" rx="2.7" ry="1.69" fill="#2bec85"/>
<ellipse cx="1138.4" cy="419.2" rx="2.7" ry="1.69" fill="#2cec86"/>
<ellipse cx="1138.4" cy="424.1" rx="2.7" ry="1.69" fill="#2dec86"/>
<ellipse cx="1138.4" cy="429.0" rx="2.7" ry="1.69" fill="#2eeb86"/>
<ellipse cx="1138.4" cy="433.9" rx="2.7" ry="1.69" fill="#30eb87"/>
<ellipse cx="1138.4" cy="438.8" rx="2.7" ry="1.69" fill="#31eb87"/>
<ellipse cx="1138.4" cy="443.7" rx="2.7" ry="1.69" fill="#3ee68b"/>
<ellipse cx="1138.4" cy="448.6" rx="2.7" ry="1.69" fill="#4ee190"/>
<ellipse cx="1138.4" cy="453.5" rx="2.7" ry="1.69" fill="#5fdc95"/>
<ellipse cx="1138.4" cy="458.4" rx="2.7" ry="1.69" fill="#6cd599"/>
<ellipse cx="1138.4" cy="463.3" rx="2.7" ry="1.59" fill="#76ce9d"/>
<ellipse cx="1138.4" cy="467.6" rx="2.7" ry="1.72" fill="#80c8a0"/>
<ellipse cx="1138.4" cy="471.1" rx="2.7" ry="1.67" fill="#89c5a4"/>
<ellipse cx="1138.4" cy="473.9" rx="2.7" ry="1.34" fill="#94c5ab"/>
<ellipse cx="1138.4" cy="476.1" rx="2.7" ry="1.20" fill="#9cc6b0"/>
<ellipse cx="1138.4" cy="478.1" rx="2.7" ry="1.20" fill="#a4c6b4"/>
<ellipse cx="1138.4" cy="480.1" rx="2.7" ry="1.20" fill="#abc7b9"/>
<ellipse cx="1138.4" cy="482.1" rx="2.7" ry="1.20" fill="#b3c7bd"/>
<ellipse cx="1138.4" cy="484.1" rx="2.7" ry="1.20" fill="#bbc8c2"/>
<ellipse cx="1138.4" cy="486.1" rx="2.7" ry="1.20" fill="#c1cbc7"/>
<ellipse cx="1138.4" cy="488.1" rx="2.7" ry="1.20" fill="#c7d1cd"/>
<ellipse cx="1138.4" cy="490.1" rx="2.7" ry="1.20" fill="#cdd7d2"/>
<ellipse cx="1138.4" cy="492.1" rx="2.7" ry="1.20" fill="#d3ddd8"/>
<ellipse cx="1138.4" cy="494.1" rx="2.7" ry="1.20" fill="#d8e2de"/>
<ellipse cx="1138.4" cy="496.1" rx="2.7" ry="1.20" fill="#dee8e3"/>
<ellipse cx="1138.4" cy="498.1" rx="2.7" ry="1.20" fill="#dceee7"/>
<ellipse cx="1138.4" cy="500.1" rx="2.7" ry="1.20" fill="#d4f3e8"/>
<ellipse cx="1138.4" cy="502.1" rx="2.7" ry="1.20" fill="#cbf8e9"/>
<ellipse cx="1138.4" cy="504.1" rx="2.7" ry="1.20" fill="#c2fdea"/>
<ellipse cx="1138.4" cy="506.1" rx="2.7" ry="1.20" fill="#adfbde"/>
<ellipse cx="1138.4" cy="508.1" rx="2.7" ry="1.20" fill="#8ef5c6"/>
<ellipse cx="1138.4" cy="510.1" rx="2.7" ry="1.20" fill="#6feeaf"/>
<ellipse cx="1138.4" cy="512.1" rx="2.7" ry="1.20" fill="#50e897"/>
<ellipse cx="1138.4" cy="514.1" rx="2.7" ry="1.20" fill="#3de78a"/>
<ellipse cx="1138.4" cy="516.1" rx="2.7" ry="1.20" fill="#33ea88"/>
<ellipse cx="1138.4" cy="518.1" rx="2.7" ry="1.20" fill="#29ed85"/>
<ellipse cx="1138.4" cy="520.1" rx="2.7" ry="1.20" fill="#20f082"/>
<ellipse cx="1138.4" cy="522.1" rx="2.7" ry="1.33" fill="#20f082"/>
<ellipse cx="1138.4" cy="524.3" rx="2.7" ry="1.46" fill="#20f082"/>
<ellipse cx="1138.4" cy="526.7" rx="2.7" ry="1.60" fill="#20f082"/>
<ellipse cx="1138.4" cy="529.4" rx="2.7" ry="1.76" fill="#20f082"/>
<ellipse cx="1138.4" cy="532.3" rx="2.7" ry="1.70" fill="#20f082"/>
<ellipse cx="1138.4" cy="535.9" rx="2.7" ry="1.55" fill="#20f082"/>
<ellipse cx="1138.4" cy="540.4" rx="2.7" ry="1.72" fill="#20f082"/>
<ellipse cx="1138.4" cy="545.4" rx="2.7" ry="1.72" fill="#20f082"/>
<ellipse cx="1138.4" cy="550.4" rx="2.7" ry="1.72" fill="#20f082"/>
<ellipse cx="1138.4" cy="555.4" rx="2.7" ry="1.72" fill="#20f082"/>
<ellipse cx="1182.3" cy="295.7" rx="2.7" ry="2.30" fill="#20f082"/>
<ellipse cx="1182.3" cy="305.4" rx="2.7" ry="2.30" fill="#21f082"/>
<ellipse cx="1182.3" cy="316.0" rx="2.7" ry="2.30" fill="#22ef83"/>
<ellipse cx="1182.3" cy="326.8" rx="2.7" ry="2.30" fill="#23ef83"/>
<ellipse cx="1182.3" cy="337.5" rx="2.7" ry="2.30" fill="#25ef83"/>
<ellipse cx="1182.3" cy="347.8" rx="2.7" ry="2.30" fill="#26ee84"/>
<ellipse cx="1182.3" cy="358.3" rx="2.7" ry="2.30" fill="#27ee84"/>
<ellipse cx="1182.3" cy="369.0" rx="2.7" ry="2.30" fill="#28ed84"/>
<ellipse cx="1182.3" cy="379.7" rx="2.7" ry="2.30" fill="#29ed85"/>
<ellipse cx="1182.3" cy="390.4" rx="2.7" ry="2.30" fill="#2aed85"/>
<ellipse cx="1182.3" cy="400.7" rx="2.7" ry="2.30" fill="#2bec85"/>
<ellipse cx="1182.3" cy="411.4" rx="2.7" ry="2.30" fill="#2cec86"/>
<ellipse cx="1182.3" cy="421.4" rx="2.7" ry="2.30" fill="#2dec86"/>
<ellipse cx="1182.3" cy="431.2" rx="2.7" ry="2.30" fill="#2eeb86"/>
<ellipse cx="1182.3" cy="441.2" rx="2.7" ry="2.30" fill="#30eb87"/>
<ellipse cx="1182.3" cy="450.2" rx="2.7" ry="2.30" fill="#30eb87"/>
<ellipse cx="1182.3" cy="458.9" rx="2.7" ry="2.30" fill="#3ee68b"/>
<ellipse cx="1182.3" cy="467.5" rx="2.7" ry="2.30" fill="#5cdd94"/>
<ellipse cx="1182.3" cy="475.1" rx="2.7" ry="2.30" fill="#6fd39a"/>
<ellipse cx="1182.3" cy="481.9" rx="2.7" ry="2.30" fill="#7ec9a0"/>
<ellipse cx="1182.3" cy="488.7" rx="2.7" ry="1.86" fill="#88c3a3"/>
<ellipse cx="1182.3" cy="494.1" rx="2.7" ry="1.86" fill="#8cc0a4"/>
<ellipse cx="1182.3" cy="499.6" rx="2.7" ry="1.86" fill="#90bda6"/>
<ellipse cx="1182.3" cy="505.0" rx="2.7" ry="1.86" fill="#87c3a3"/>
<ellipse cx="1182.3" cy="508.0" rx="2.7" ry="1.20" fill="#81c7a1"/>
<ellipse cx="1182.3" cy="510.0" rx="2.7" ry="1.20" fill="#7ec99f"/>
<ellipse cx="1182.3" cy="512.0" rx="2.7" ry="1.20" fill="#7acc9e"/>
<ellipse cx="1182.3" cy="514.0" rx="2.7" ry="1.20" fill="#9bd8b6"/>
<ellipse cx="1182.3" cy="516.0" rx="2.7" ry="1.20" fill="#bce5ce"/>
<ellipse cx="1182.3" cy="518.0" rx="2.7" ry="1.20" fill="#def2e7"/>
<ellipse cx="1182.3" cy="520.0" rx="2.7" ry="1.20" fill="#ffffff"/>
<ellipse cx="1182.3" cy="522.0" rx="2.7" ry="1.20" fill="#effffa"/>
<ellipse cx="1182.3" cy="524.0" rx="2.7" ry="1.20" fill="#defff5"/>
<ellipse cx="1182.3" cy="526.0" rx="2.7" ry="1.20" fill="#cefff0"/>
<ellipse cx="1182.3" cy="528.0" rx="2.7" ry="1.20" fill="#beffeb"/>
<ellipse cx="1182.3" cy="530.0" rx="2.7" ry="1.20" fill="#91fbcd"/>
<ellipse cx="1182.3" cy="532.0" rx="2.7" ry="1.20" fill="#64f6af"/>
<ellipse cx="1182.3" cy="534.0" rx="2.7" ry="1.20" fill="#37f291"/>
<ellipse cx="1182.3" cy="536.0" rx="2.7" ry="1.76" fill="#20f082"/>
<ellipse cx="1182.3" cy="539.2" rx="2.7" ry="1.55" fill="#20f082"/>
<ellipse cx="1182.3" cy="543.8" rx="2.7" ry="1.55" fill="#20f082"/>
<ellipse cx="1182.3" cy="548.2" rx="2.7" ry="1.55" fill="#20f082"/>
<ellipse cx="1182.3" cy="552.8" rx="2.7" ry="1.55" fill="#20f082"/>
<ellipse cx="1182.3" cy="557.2" rx="2.7" ry="1.55" fill="#20f082"/>
</g>
<g filter="url(#b1)">
<rect x="125.4" y="444.0" width="6.5" height="15.0" rx="3.2" fill="#ffffff"/>
<rect x="169.3" y="472.0" width="6.5" height="32.0" rx="3.2" fill="#ffffff"/>
<rect x="915.8" y="417.0" width="6.2" height="18.0" rx="3.1" fill="#ffffff"/>
<rect x="959.6" y="371.5" width="6.4" height="24.5" rx="3.2" fill="#ffffff"/>
</g>
<g filter="url(#b2)">
<ellipse cx="40.9" cy="415.0" rx="3.0" ry="3.5" fill="#c0fff0"/>
<ellipse cx="84.8" cy="421.0" rx="3.4" ry="4.0" fill="#e8fff4"/>
<ellipse cx="216.5" cy="477.0" rx="3.4" ry="4.0" fill="#ffffff"/>
<ellipse cx="523.8" cy="515.0" rx="2.8" ry="6.0" fill="#ff60d0"/>
<ellipse cx="567.7" cy="495.0" rx="3.2" ry="6.0" fill="#ff90e0"/>
<ellipse cx="611.6" cy="468.5" rx="3.4" ry="5.0" fill="#fff0fa"/>
<ellipse cx="699.4" cy="370.5" rx="3.8" ry="4.6" fill="#ffffff"/>
<ellipse cx="743.3" cy="371.0" rx="3.4" ry="4.0" fill="#ffffff"/>
<ellipse cx="831.1" cy="470.0" rx="3.4" ry="7.0" fill="#ff9ae4"/>
<ellipse cx="875.0" cy="455.6" rx="3.2" ry="3.5" fill="#ffffff"/>
<ellipse cx="1006.7" cy="300.5" rx="3.4" ry="4.2" fill="#60f8e0"/>
<ellipse cx="1138.4" cy="504.0" rx="3.0" ry="7.0" fill="#e0fff0"/>
<ellipse cx="1182.3" cy="520.0" rx="3.4" ry="5.0" fill="#ffffff"/>
</g>
<g filter="url(#b5)" fill="none" stroke-linecap="round">
<path d="M-7.80,562.55V561.64Q-7.80,561.25 -7.41,561.25H3.81Q4.20,561.25 4.20,561.64V562.55M-7.80,567.45V568.36Q-7.80,568.75 -7.41,568.75H3.81Q4.20,568.75 4.20,568.36V567.45" stroke="#58acb0" stroke-width="1.35"/><path d="M-6.96,563.84H3.36M-6.96,566.16H3.36" stroke="#70a8a8" stroke-width="1.35"/>
<path d="M39.65,569.55V568.64Q39.65,568.25 40.04,568.25H41.76Q42.15,568.25 42.15,568.64V569.55M39.65,568.45V569.36Q39.65,569.75 40.04,569.75H41.76Q42.15,569.75 42.15,569.36V568.45" stroke="#58acb0" stroke-width="1.35"/><path d="M40.45,568.77H41.35M40.45,569.23H41.35" stroke="#70a8a8" stroke-width="1.35"/>
<path d="M82.05,585.30V584.39Q82.05,584.00 82.44,584.00H87.16Q87.55,584.00 87.55,584.39V585.30M82.05,586.70V587.61Q82.05,588.00 82.44,588.00H87.16Q87.55,588.00 87.55,587.61V586.70" stroke="#58acb0" stroke-width="1.35"/><path d="M82.85,585.38H86.75M82.85,586.62H86.75" stroke="#70a8a8" stroke-width="1.35"/>
<path d="M123.70,611.35V610.44Q123.70,610.05 124.09,610.05H133.31Q133.70,610.05 133.70,610.44V611.35M123.70,616.25V617.16Q123.70,617.55 124.09,617.55H133.31Q133.70,617.55 133.70,617.16V616.25" stroke="#58acb0" stroke-width="1.35"/><path d="M124.50,612.64H132.90M124.50,614.96H132.90" stroke="#70a8a8" stroke-width="1.35"/>
<path d="M165.85,602.40V601.20Q165.85,600.70 166.35,600.70H178.85Q179.35,600.70 179.35,601.20V602.40M165.85,609.00V610.20Q165.85,610.70 166.35,610.70H178.85Q179.35,610.70 179.35,610.20V609.00" stroke="#58acb0" stroke-width="1.35"/><path d="M166.79,604.15H178.41M166.79,607.25H178.41" stroke="#70a8a8" stroke-width="1.35"/>
<path d="M208.25,423.04V421.50Q208.25,421.00 208.75,421.00H224.25Q224.75,421.00 224.75,421.50V423.04M208.25,430.96V432.50Q208.25,433.00 208.75,433.00H224.25Q224.75,433.00 224.75,432.50V430.96" stroke="#58acb0" stroke-width="1.56"/><path d="M209.41,425.14H223.59M209.41,428.86H223.59" stroke="#70a8a8" stroke-width="1.56"/>
<path d="M207.25,590.04V588.25Q207.25,587.75 207.75,587.75H225.25Q225.75,587.75 225.75,588.25V590.04M207.25,598.96V600.75Q207.25,601.25 207.75,601.25H225.25Q225.75,601.25 225.75,600.75V598.96" stroke="#58b2b6" stroke-width="1.76"/><path d="M208.54,592.41H224.46M208.54,596.59H224.46" stroke="#71aeaf" stroke-width="1.76"/>
<path d="M256.15,353.10V352.19Q256.15,351.80 256.54,351.80H264.26Q264.65,351.80 264.65,352.19V353.10M256.15,355.70V356.61Q256.15,357.00 256.54,357.00H264.26Q264.65,357.00 264.65,356.61V355.70" stroke="#58acb0" stroke-width="1.35"/><path d="M256.95,353.59H263.85M256.95,355.21H263.85" stroke="#70a8a8" stroke-width="1.35"/>
<path d="M251.80,590.08V588.45Q251.80,587.95 252.30,587.95H268.50Q269.00,587.95 269.00,588.45V590.08M251.80,598.33V599.95Q251.80,600.45 252.30,600.45H268.50Q269.00,600.45 269.00,599.95V598.33" stroke="#58aeb2" stroke-width="1.62"/><path d="M253.00,592.26H267.80M253.00,596.14H267.80" stroke="#70aaaa" stroke-width="1.62"/>
<path d="M299.80,324.65V323.74Q299.80,323.35 300.19,323.35H308.41Q308.80,323.35 308.80,323.74V324.65M299.80,327.35V328.26Q299.80,328.65 300.19,328.65H308.41Q308.80,328.65 308.80,328.26V327.35" stroke="#58acb0" stroke-width="1.35"/><path d="M300.60,325.18H308.00M300.60,326.82H308.00" stroke="#70a8a8" stroke-width="1.35"/>
<path d="M299.80,585.55V584.64Q299.80,584.25 300.19,584.25H308.41Q308.80,584.25 308.80,584.64V585.55M299.80,589.45V590.36Q299.80,590.75 300.19,590.75H308.41Q308.80,590.75 308.80,590.36V589.45" stroke="#58acb0" stroke-width="1.35"/><path d="M300.60,586.49H308.00M300.60,588.51H308.00" stroke="#70a8a8" stroke-width="1.35"/>
<path d="M342.45,308.19V307.18Q342.45,306.75 342.88,306.75H353.52Q353.95,306.75 353.95,307.18V308.19M342.45,313.81V314.82Q342.45,315.25 342.88,315.25H353.52Q353.95,315.25 353.95,314.82V313.81" stroke="#58acb0" stroke-width="1.35"/><path d="M343.25,309.68H353.14M343.25,312.32H353.14" stroke="#70a8a8" stroke-width="1.35"/>
<path d="M344.70,550.20V549.29Q344.70,548.90 345.09,548.90H351.31Q351.70,548.90 351.70,549.29V550.20M344.70,552.60V553.51Q344.70,553.90 345.09,553.90H351.31Q351.70,553.90 351.70,553.51V552.60" stroke="#58acb0" stroke-width="1.35"/><path d="M345.50,550.62H350.90M345.50,552.17H350.90" stroke="#70a8a8" stroke-width="1.35"/>
<path d="M387.35,530.05V529.14Q387.35,528.75 387.74,528.75H396.46Q396.85,528.75 396.85,529.14V530.05M387.35,533.95V534.86Q387.35,535.25 387.74,535.25H396.46Q396.85,535.25 396.85,534.86V533.95" stroke="#58acb0" stroke-width="1.35"/><path d="M388.15,530.99H396.05M388.15,533.01H396.05" stroke="#70a8a8" stroke-width="1.35"/>
<path d="M432.50,548.30V547.39Q432.50,547.00 432.89,547.00H439.11Q439.50,547.00 439.50,547.39V548.30M432.50,550.70V551.61Q432.50,552.00 432.89,552.00H439.11Q439.50,552.00 439.50,551.61V550.70" stroke="#58acb0" stroke-width="1.35"/><path d="M433.30,548.73H438.70M433.30,550.27H438.70" stroke="#70a8a8" stroke-width="1.35"/>
<path d="M475.15,568.25V567.34Q475.15,566.95 475.54,566.95H484.26Q484.65,566.95 484.65,567.34V568.25M475.15,573.15V574.06Q475.15,574.45 475.54,574.45H484.26Q484.65,574.45 484.65,574.06V573.15" stroke="#58acb0" stroke-width="1.35"/><path d="M475.95,569.54H483.85M475.95,571.86H483.85" stroke="#70a8a8" stroke-width="1.35"/>
<path d="M513.55,253.05V251.00Q513.55,250.50 514.05,250.50H533.55Q534.05,250.50 534.05,251.00V253.05M513.55,262.95V265.00Q513.55,265.50 514.05,265.50H533.55Q534.05,265.50 534.05,265.00V262.95" stroke="#58b8bd" stroke-width="1.95"/><path d="M514.98,255.68H532.62M514.98,260.32H532.62" stroke="#72b4b5" stroke-width="1.95"/>
<path d="M555.50,230.63V228.10Q555.50,227.60 556.00,227.60H579.40Q579.90,227.60 579.90,228.10V230.63M555.50,242.37V244.90Q555.50,245.40 556.00,245.40H579.40Q579.90,245.40 579.90,244.90V242.37" stroke="#59c2c9" stroke-width="2.31"/><path d="M557.21,233.74H578.19M557.21,239.26H578.19" stroke="#73bec2" stroke-width="2.31"/>
<path d="M602.10,248.68V246.80Q602.10,246.30 602.60,246.30H620.60Q621.10,246.30 621.10,246.80V248.68M602.10,257.92V259.80Q602.10,260.30 602.60,260.30H620.60Q621.10,260.30 621.10,259.80V257.92" stroke="#58b4b9" stroke-width="1.82"/><path d="M603.43,251.13H619.77M603.43,255.47H619.77" stroke="#71b0b1" stroke-width="1.82"/>
<path d="M608.60,487.55V486.64Q608.60,486.25 608.99,486.25H614.21Q614.60,486.25 614.60,486.64V487.55M608.60,488.45V489.36Q608.60,489.75 608.99,489.75H614.21Q614.60,489.75 614.60,489.36V488.45" stroke="#58acb0" stroke-width="1.35"/><path d="M609.40,487.46H613.80M609.40,488.54H613.80" stroke="#70a8a8" stroke-width="1.35"/>
<path d="M649.75,309.80V308.78Q649.75,308.35 650.18,308.35H660.82Q661.25,308.35 661.25,308.78V309.80M649.75,315.41V316.42Q649.75,316.85 650.18,316.85H660.82Q661.25,316.85 661.25,316.42V315.41" stroke="#58acb0" stroke-width="1.35"/><path d="M650.55,311.28H660.45M650.55,313.92H660.45" stroke="#70a8a8" stroke-width="1.35"/>
<path d="M652.00,506.90V505.99Q652.00,505.60 652.39,505.60H658.61Q659.00,505.60 659.00,505.99V506.90M652.00,508.30V509.21Q652.00,509.60 652.39,509.60H658.61Q659.00,509.60 659.00,509.21V508.30" stroke="#58acb0" stroke-width="1.35"/><path d="M652.80,506.98H658.20M652.80,508.22H658.20" stroke="#70a8a8" stroke-width="1.35"/>
<path d="M693.65,563.20V562.18Q693.65,561.75 694.08,561.75H704.72Q705.15,561.75 705.15,562.18V563.20M693.65,568.80V569.82Q693.65,570.25 694.08,570.25H704.72Q705.15,570.25 705.15,569.82V568.80" stroke="#58acb0" stroke-width="1.35"/><path d="M694.45,564.68H704.35M694.45,567.32H704.35" stroke="#70a8a8" stroke-width="1.35"/>
<path d="M739.55,364.55V363.64Q739.55,363.25 739.94,363.25H746.66Q747.05,363.25 747.05,363.64V364.55M739.55,366.45V367.36Q739.55,367.75 739.94,367.75H746.66Q747.05,367.75 747.05,367.36V366.45" stroke="#58acb0" stroke-width="1.35"/><path d="M740.35,364.80H746.25M740.35,366.20H746.25" stroke="#70a8a8" stroke-width="1.35"/>
<path d="M738.30,604.05V603.14Q738.30,602.75 738.69,602.75H747.91Q748.30,602.75 748.30,603.14V604.05M738.30,607.95V608.86Q738.30,609.25 738.69,609.25H747.91Q748.30,609.25 748.30,608.86V607.95" stroke="#58acb0" stroke-width="1.35"/><path d="M739.10,604.99H747.50M739.10,607.01H747.50" stroke="#70a8a8" stroke-width="1.35"/>
<path d="M780.20,317.93V316.82Q780.20,316.35 780.67,316.35H793.73Q794.20,316.35 794.20,316.82V317.93M780.20,324.07V325.18Q780.20,325.65 780.67,325.65H793.73Q794.20,325.65 794.20,325.18V324.07" stroke="#58acb0" stroke-width="1.35"/><path d="M781.18,319.56H793.22M781.18,322.44H793.22" stroke="#70a8a8" stroke-width="1.35"/>
<path d="M783.70,585.05V584.14Q783.70,583.75 784.09,583.75H790.31Q790.70,583.75 790.70,584.14V585.05M783.70,586.95V587.86Q783.70,588.25 784.09,588.25H790.31Q790.70,588.25 790.70,587.86V586.95" stroke="#58acb0" stroke-width="1.35"/><path d="M784.50,585.30H789.90M784.50,586.70H789.90" stroke="#70a8a8" stroke-width="1.35"/>
<path d="M822.40,318.91V317.30Q822.40,316.80 822.90,316.80H839.30Q839.80,316.80 839.80,317.30V318.91M822.40,327.09V328.70Q822.40,329.20 822.90,329.20H839.30Q839.80,329.20 839.80,328.70V327.09" stroke="#58aeb2" stroke-width="1.61"/><path d="M823.62,321.08H838.58M823.62,324.92H838.58" stroke="#70aaaa" stroke-width="1.61"/>
<path d="M862.00,371.17V368.15Q862.00,367.65 862.50,367.65H887.50Q888.00,367.65 888.00,368.15V371.17M862.00,384.83V387.85Q862.00,388.35 862.50,388.35H887.50Q888.00,388.35 888.00,387.85V384.83" stroke="#59ced5" stroke-width="2.60"/><path d="M863.82,374.79H886.18M863.82,381.21H886.18" stroke="#75cacf" stroke-width="2.60"/>
<path d="M908.65,426.38V424.50Q908.65,424.00 909.15,424.00H928.65Q929.15,424.00 929.15,424.50V426.38M908.65,435.62V437.50Q908.65,438.00 909.15,438.00H928.65Q929.15,438.00 929.15,437.50V435.62" stroke="#58b4b9" stroke-width="1.82"/><path d="M910.08,428.83H927.72M910.08,433.17H927.72" stroke="#71b0b1" stroke-width="1.82"/>
<path d="M1001.70,529.55V528.64Q1001.70,528.25 1002.09,528.25H1011.31Q1011.70,528.25 1011.70,528.64V529.55M1001.70,534.45V535.36Q1001.70,535.75 1002.09,535.75H1011.31Q1011.70,535.75 1011.70,535.36V534.45" stroke="#58acb0" stroke-width="1.35"/><path d="M1002.50,530.84H1010.90M1002.50,533.16H1010.90" stroke="#70a8a8" stroke-width="1.35"/>
<path d="M1046.60,311.80V310.89Q1046.60,310.50 1046.99,310.50H1054.21Q1054.60,310.50 1054.60,310.89V311.80M1046.60,314.20V315.11Q1046.60,315.50 1046.99,315.50H1054.21Q1054.60,315.50 1054.60,315.11V314.20" stroke="#58acb0" stroke-width="1.35"/><path d="M1047.40,312.23H1053.80M1047.40,313.77H1053.80" stroke="#70a8a8" stroke-width="1.35"/>
<path d="M1045.10,544.15V543.24Q1045.10,542.85 1045.49,542.85H1055.71Q1056.10,542.85 1056.10,543.24V544.15M1045.10,549.05V549.96Q1045.10,550.35 1045.49,550.35H1055.71Q1056.10,550.35 1056.10,549.96V549.05" stroke="#58acb0" stroke-width="1.35"/><path d="M1045.90,545.44H1055.30M1045.90,547.76H1055.30" stroke="#70a8a8" stroke-width="1.35"/>
<path d="M1084.25,355.72V353.50Q1084.25,353.00 1084.75,353.00H1104.25Q1104.75,353.00 1104.75,353.50V355.72M1084.25,366.28V368.50Q1084.25,369.00 1084.75,369.00H1104.25Q1104.75,369.00 1104.75,368.50V366.28" stroke="#59bbc1" stroke-width="2.08"/><path d="M1085.68,358.52H1103.32M1085.68,363.48H1103.32" stroke="#72b7ba" stroke-width="2.08"/>
<path d="M1086.50,536.04V534.50Q1086.50,534.00 1087.00,534.00H1102.00Q1102.50,534.00 1102.50,534.50V536.04M1086.50,543.96V545.50Q1086.50,546.00 1087.00,546.00H1102.00Q1102.50,546.00 1102.50,545.50V543.96" stroke="#58acb0" stroke-width="1.56"/><path d="M1087.62,538.14H1101.38M1087.62,541.86H1101.38" stroke="#70a8a8" stroke-width="1.56"/>
<path d="M1122.90,358.82V355.10Q1122.90,354.60 1123.40,354.60H1153.40Q1153.90,354.60 1153.90,355.10V358.82M1122.90,375.18V378.90Q1122.90,379.40 1123.40,379.40H1153.40Q1153.90,379.40 1153.90,378.90V375.18" stroke="#5adde7" stroke-width="2.60"/><path d="M1125.07,363.16H1151.73M1125.07,370.84H1151.73" stroke="#77d9e1" stroke-width="2.60"/>
<path d="M1130.40,524.21V522.75Q1130.40,522.25 1130.90,522.25H1145.90Q1146.40,522.25 1146.40,522.75V524.21M1130.40,531.79V533.25Q1130.40,533.75 1130.90,533.75H1145.90Q1146.40,533.75 1146.40,533.25V531.79" stroke="#58acb0" stroke-width="1.50"/><path d="M1131.52,526.22H1145.28M1131.52,529.78H1145.28" stroke="#70a8a8" stroke-width="1.50"/>
<path d="M1164.80,286.43V282.00Q1164.80,281.50 1165.30,281.50H1199.30Q1199.80,281.50 1199.80,282.00V286.43M1164.80,305.57V310.00Q1164.80,310.50 1165.30,310.50H1199.30Q1199.80,310.50 1199.80,310.00V305.57" stroke="#5ae2ec" stroke-width="2.60"/><path d="M1167.25,291.50H1197.35M1167.25,300.50H1197.35" stroke="#78dee6" stroke-width="2.60"/>
</g>
<g filter="url(#b4)" fill="#f2c545">
<ellipse cx="-1.8" cy="646.0" rx="6" ry="5.2"/>
<ellipse cx="40.9" cy="645.7" rx="6" ry="5.2"/>
<ellipse cx="84.8" cy="622.7" rx="6" ry="5.2"/>
<ellipse cx="128.7" cy="630.5" rx="6" ry="5.2"/>
<ellipse cx="172.6" cy="621.3" rx="6" ry="5.2"/>
<ellipse cx="216.5" cy="609.5" rx="6" ry="5.2"/>
<ellipse cx="260.4" cy="609.0" rx="6" ry="5.2"/>
<ellipse cx="304.3" cy="607.3" rx="6" ry="5.2"/>
<ellipse cx="348.2" cy="591.8" rx="6" ry="5.2"/>
<ellipse cx="392.1" cy="585.5" rx="6" ry="5.2"/>
<ellipse cx="436.0" cy="602.3" rx="6" ry="5.2"/>
<ellipse cx="479.9" cy="643.3" rx="6" ry="5.2"/>
<ellipse cx="523.8" cy="645.7" rx="6" ry="5.2"/>
<ellipse cx="567.7" cy="634.0" rx="6" ry="5.2"/>
<ellipse cx="611.6" cy="610.0" rx="6" ry="5.2"/>
<ellipse cx="655.5" cy="609.0" rx="6" ry="5.2"/>
<ellipse cx="699.4" cy="622.3" rx="6" ry="5.2"/>
<ellipse cx="743.3" cy="618.0" rx="6" ry="5.2"/>
<ellipse cx="787.2" cy="577.0" rx="6" ry="5.2"/>
<ellipse cx="831.1" cy="560.0" rx="6" ry="5.2"/>
<ellipse cx="875.0" cy="602.8" rx="6" ry="5.2"/>
<ellipse cx="918.9" cy="627.3" rx="6" ry="5.2"/>
<ellipse cx="962.8" cy="615.0" rx="6" ry="5.2"/>
<ellipse cx="1006.7" cy="617.5" rx="6" ry="5.2"/>
<ellipse cx="1050.6" cy="615.0" rx="6" ry="5.2"/>
<ellipse cx="1094.5" cy="597.0" rx="6" ry="5.2"/>
<ellipse cx="1138.4" cy="584.6" rx="6" ry="5.2"/>
<ellipse cx="1182.3" cy="583.7" rx="6" ry="5.2"/>
</g>
<rect x="0" y="657.4" width="1200" height="2.6" fill="#ec2fa6" filter="url(#b3)"/>
</svg>
</body></html>
